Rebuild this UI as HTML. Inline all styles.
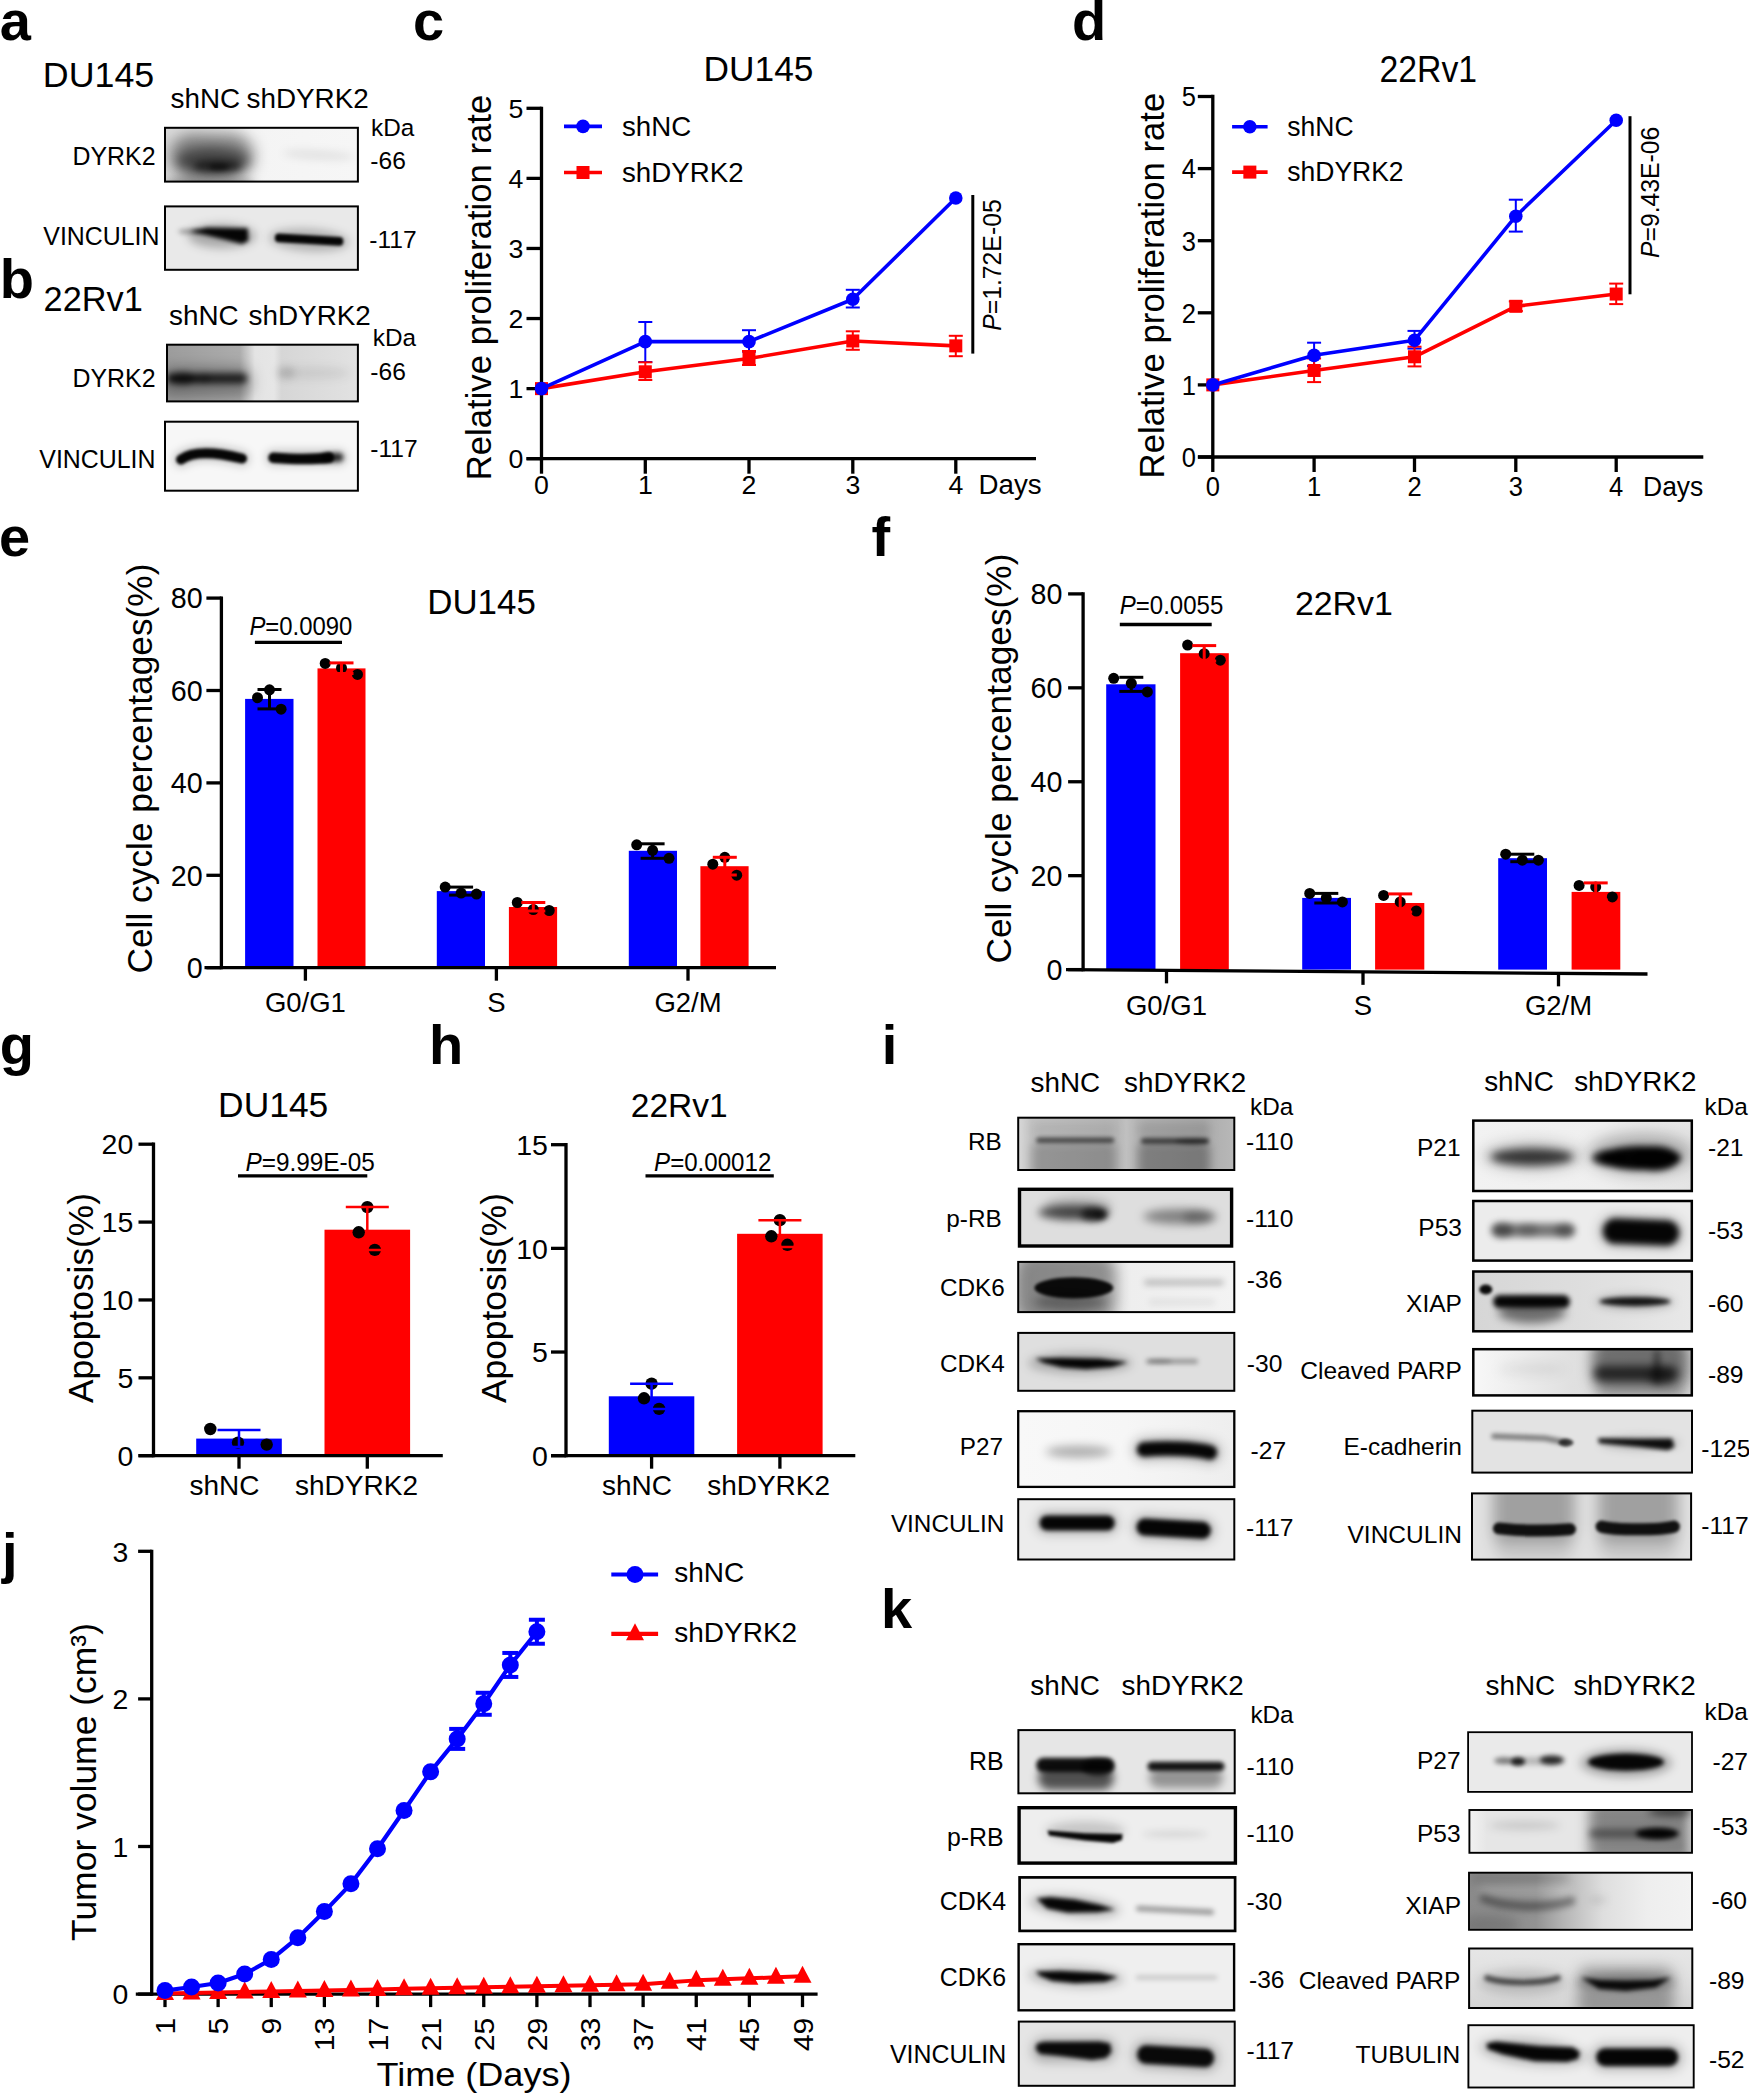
<!DOCTYPE html>
<html lang="en"><head><meta charset="utf-8"><title>Figure</title>
<style>
html,body{margin:0;padding:0;background:#fff;}
body{width:1749px;height:2096px;overflow:hidden;}
svg{display:block;font-family:"Liberation Sans",sans-serif;fill:#000;}
</style></head><body>
<svg width="1749" height="2096" viewBox="0 0 1749 2096">
<defs>
<linearGradient id="g1" gradientUnits="userSpaceOnUse" x1="165" y1="0" x2="358" y2="0"><stop offset="0" stop-color="#d8d8d8"/><stop offset="0.1" stop-color="#e0e0e0"/><stop offset="0.45" stop-color="#f4f4f4"/><stop offset="1" stop-color="#f6f6f6"/></linearGradient>
<clipPath id="c2"><rect x="165" y="127.8" width="192.9" height="53.8"/></clipPath>
<filter id="f3" filterUnits="userSpaceOnUse" x="120" y="82.8" width="282.9" height="143.8"><feGaussianBlur stdDeviation="7.5"/></filter>
<filter id="f4" filterUnits="userSpaceOnUse" x="120" y="82.8" width="282.9" height="143.8"><feGaussianBlur stdDeviation="5.5"/></filter>
<filter id="f5" filterUnits="userSpaceOnUse" x="120" y="82.8" width="282.9" height="143.8"><feGaussianBlur stdDeviation="3.5"/></filter>
<filter id="f6" filterUnits="userSpaceOnUse" x="120" y="82.8" width="282.9" height="143.8"><feGaussianBlur stdDeviation="2"/></filter>
<filter id="f7" filterUnits="userSpaceOnUse" x="120" y="82.8" width="282.9" height="143.8"><feGaussianBlur stdDeviation="5"/></filter>
<filter id="f8" filterUnits="userSpaceOnUse" x="120" y="82.8" width="282.9" height="143.8"><feGaussianBlur stdDeviation="4"/></filter>
<clipPath id="c9"><rect x="165" y="206.4" width="192.9" height="63.4"/></clipPath>
<filter id="f10" filterUnits="userSpaceOnUse" x="120" y="161.4" width="282.9" height="153.4"><feGaussianBlur stdDeviation="2.1"/></filter>
<filter id="f11" filterUnits="userSpaceOnUse" x="120" y="161.4" width="282.9" height="153.4"><feGaussianBlur stdDeviation="2.5"/></filter>
<filter id="f12" filterUnits="userSpaceOnUse" x="120" y="161.4" width="282.9" height="153.4"><feGaussianBlur stdDeviation="5"/></filter>
<filter id="f13" filterUnits="userSpaceOnUse" x="120" y="161.4" width="282.9" height="153.4"><feGaussianBlur stdDeviation="1.5"/></filter>
<filter id="f14" filterUnits="userSpaceOnUse" x="120" y="161.4" width="282.9" height="153.4"><feGaussianBlur stdDeviation="5"/></filter>
<linearGradient id="g15" gradientUnits="userSpaceOnUse" x1="167" y1="0" x2="358" y2="0"><stop offset="0" stop-color="#9c9c9c"/><stop offset="0.38" stop-color="#acacac"/><stop offset="0.46" stop-color="#e4e4e4"/><stop offset="0.56" stop-color="#e6e6e6"/><stop offset="0.6" stop-color="#d6d6d6"/><stop offset="1" stop-color="#e2e2e2"/></linearGradient>
<clipPath id="c16"><rect x="167" y="344.7" width="190.9" height="56.7"/></clipPath>
<filter id="f17" filterUnits="userSpaceOnUse" x="122" y="299.7" width="280.9" height="146.7"><feGaussianBlur stdDeviation="3"/></filter>
<filter id="f18" filterUnits="userSpaceOnUse" x="122" y="299.7" width="280.9" height="146.7"><feGaussianBlur stdDeviation="7"/></filter>
<filter id="f19" filterUnits="userSpaceOnUse" x="122" y="299.7" width="280.9" height="146.7"><feGaussianBlur stdDeviation="4"/></filter>
<filter id="f20" filterUnits="userSpaceOnUse" x="122" y="299.7" width="280.9" height="146.7"><feGaussianBlur stdDeviation="5"/></filter>
<clipPath id="c21"><rect x="165" y="421.7" width="192.9" height="69"/></clipPath>
<filter id="f22" filterUnits="userSpaceOnUse" x="120" y="376.7" width="282.9" height="159"><feGaussianBlur stdDeviation="1.6"/></filter>
<filter id="f23" filterUnits="userSpaceOnUse" x="120" y="376.7" width="282.9" height="159"><feGaussianBlur stdDeviation="4.5"/></filter>
<filter id="f24" filterUnits="userSpaceOnUse" x="120" y="376.7" width="282.9" height="159"><feGaussianBlur stdDeviation="1.6"/></filter>
<filter id="f25" filterUnits="userSpaceOnUse" x="120" y="376.7" width="282.9" height="159"><feGaussianBlur stdDeviation="2.5"/></filter>
<filter id="f26" filterUnits="userSpaceOnUse" x="120" y="376.7" width="282.9" height="159"><feGaussianBlur stdDeviation="4.5"/></filter>
<linearGradient id="g27" gradientUnits="userSpaceOnUse" x1="1018.2" y1="0" x2="1234.3" y2="0"><stop offset="0" stop-color="#d8d8d8"/><stop offset="0.06" stop-color="#c4c4c4"/><stop offset="0.46" stop-color="#b8b8b8"/><stop offset="0.5" stop-color="#c0c0c0"/><stop offset="0.55" stop-color="#b6b6b6"/><stop offset="0.86" stop-color="#acacac"/><stop offset="1" stop-color="#b8b8b8"/></linearGradient>
<clipPath id="c28"><rect x="1018.2" y="1117.7" width="216.1" height="52.3"/></clipPath>
<filter id="f29" filterUnits="userSpaceOnUse" x="973.2" y="1072.7" width="306.1" height="142.3"><feGaussianBlur stdDeviation="5"/></filter>
<filter id="f30" filterUnits="userSpaceOnUse" x="973.2" y="1072.7" width="306.1" height="142.3"><feGaussianBlur stdDeviation="2.2"/></filter>
<clipPath id="c31"><rect x="1019.5" y="1189.3" width="212.1" height="56.7"/></clipPath>
<filter id="f32" filterUnits="userSpaceOnUse" x="974.5" y="1144.3" width="302.1" height="146.7"><feGaussianBlur stdDeviation="4.5"/></filter>
<filter id="f33" filterUnits="userSpaceOnUse" x="974.5" y="1144.3" width="302.1" height="146.7"><feGaussianBlur stdDeviation="3.5"/></filter>
<filter id="f34" filterUnits="userSpaceOnUse" x="974.5" y="1144.3" width="302.1" height="146.7"><feGaussianBlur stdDeviation="2.5"/></filter>
<filter id="f35" filterUnits="userSpaceOnUse" x="974.5" y="1144.3" width="302.1" height="146.7"><feGaussianBlur stdDeviation="5"/></filter>
<filter id="f36" filterUnits="userSpaceOnUse" x="974.5" y="1144.3" width="302.1" height="146.7"><feGaussianBlur stdDeviation="4"/></filter>
<linearGradient id="g37" gradientUnits="userSpaceOnUse" x1="1018.2" y1="0" x2="1234.3" y2="0"><stop offset="0" stop-color="#d0d0d0"/><stop offset="0.4" stop-color="#e0e0e0"/><stop offset="0.52" stop-color="#eeeeee"/><stop offset="1" stop-color="#f3f3f3"/></linearGradient>
<clipPath id="c38"><rect x="1018.2" y="1261.9" width="216.1" height="50.2"/></clipPath>
<filter id="f39" filterUnits="userSpaceOnUse" x="973.2" y="1216.9" width="306.1" height="140.2"><feGaussianBlur stdDeviation="7"/></filter>
<filter id="f40" filterUnits="userSpaceOnUse" x="973.2" y="1216.9" width="306.1" height="140.2"><feGaussianBlur stdDeviation="5"/></filter>
<filter id="f41" filterUnits="userSpaceOnUse" x="973.2" y="1216.9" width="306.1" height="140.2"><feGaussianBlur stdDeviation="1.6"/></filter>
<filter id="f42" filterUnits="userSpaceOnUse" x="973.2" y="1216.9" width="306.1" height="140.2"><feGaussianBlur stdDeviation="3"/></filter>
<clipPath id="c43"><rect x="1018.2" y="1332.9" width="216.1" height="57.9"/></clipPath>
<filter id="f44" filterUnits="userSpaceOnUse" x="973.2" y="1287.9" width="306.1" height="147.9"><feGaussianBlur stdDeviation="1.9"/></filter>
<filter id="f45" filterUnits="userSpaceOnUse" x="973.2" y="1287.9" width="306.1" height="147.9"><feGaussianBlur stdDeviation="5"/></filter>
<filter id="f46" filterUnits="userSpaceOnUse" x="973.2" y="1287.9" width="306.1" height="147.9"><feGaussianBlur stdDeviation="2.6"/></filter>
<filter id="f47" filterUnits="userSpaceOnUse" x="973.2" y="1287.9" width="306.1" height="147.9"><feGaussianBlur stdDeviation="2"/></filter>
<linearGradient id="g48" gradientUnits="userSpaceOnUse" x1="1018.2" y1="0" x2="1234.3" y2="0"><stop offset="0" stop-color="#f8f8f8"/><stop offset="0.5" stop-color="#f6f6f6"/><stop offset="1" stop-color="#eeeeee"/></linearGradient>
<clipPath id="c49"><rect x="1018.2" y="1411.2" width="216.1" height="75.7"/></clipPath>
<filter id="f50" filterUnits="userSpaceOnUse" x="973.2" y="1366.2" width="306.1" height="165.7"><feGaussianBlur stdDeviation="5"/></filter>
<filter id="f51" filterUnits="userSpaceOnUse" x="973.2" y="1366.2" width="306.1" height="165.7"><feGaussianBlur stdDeviation="2.6"/></filter>
<filter id="f52" filterUnits="userSpaceOnUse" x="973.2" y="1366.2" width="306.1" height="165.7"><feGaussianBlur stdDeviation="6"/></filter>
<clipPath id="c53"><rect x="1018.2" y="1499.2" width="216.1" height="60.3"/></clipPath>
<filter id="f54" filterUnits="userSpaceOnUse" x="973.2" y="1454.2" width="306.1" height="150.3"><feGaussianBlur stdDeviation="2"/></filter>
<filter id="f55" filterUnits="userSpaceOnUse" x="973.2" y="1454.2" width="306.1" height="150.3"><feGaussianBlur stdDeviation="5.5"/></filter>
<filter id="f56" filterUnits="userSpaceOnUse" x="973.2" y="1454.2" width="306.1" height="150.3"><feGaussianBlur stdDeviation="2"/></filter>
<filter id="f57" filterUnits="userSpaceOnUse" x="973.2" y="1454.2" width="306.1" height="150.3"><feGaussianBlur stdDeviation="5.5"/></filter>
<linearGradient id="g58" gradientUnits="userSpaceOnUse" x1="1473.3" y1="0" x2="1691.8" y2="0"><stop offset="0" stop-color="#f2f2f2"/><stop offset="0.6" stop-color="#efefef"/><stop offset="1" stop-color="#e4e4e4"/></linearGradient>
<clipPath id="c59"><rect x="1473.3" y="1120.6" width="218.5" height="70.4"/></clipPath>
<filter id="f60" filterUnits="userSpaceOnUse" x="1428.3" y="1075.6" width="308.5" height="160.4"><feGaussianBlur stdDeviation="4.5"/></filter>
<filter id="f61" filterUnits="userSpaceOnUse" x="1428.3" y="1075.6" width="308.5" height="160.4"><feGaussianBlur stdDeviation="7"/></filter>
<filter id="f62" filterUnits="userSpaceOnUse" x="1428.3" y="1075.6" width="308.5" height="160.4"><feGaussianBlur stdDeviation="3.4"/></filter>
<filter id="f63" filterUnits="userSpaceOnUse" x="1428.3" y="1075.6" width="308.5" height="160.4"><feGaussianBlur stdDeviation="8"/></filter>
<clipPath id="c64"><rect x="1473.3" y="1201" width="218.5" height="59.6"/></clipPath>
<filter id="f65" filterUnits="userSpaceOnUse" x="1428.3" y="1156" width="308.5" height="149.6"><feGaussianBlur stdDeviation="3.8"/></filter>
<filter id="f66" filterUnits="userSpaceOnUse" x="1428.3" y="1156" width="308.5" height="149.6"><feGaussianBlur stdDeviation="3.5"/></filter>
<filter id="f67" filterUnits="userSpaceOnUse" x="1428.3" y="1156" width="308.5" height="149.6"><feGaussianBlur stdDeviation="3.2"/></filter>
<filter id="f68" filterUnits="userSpaceOnUse" x="1428.3" y="1156" width="308.5" height="149.6"><feGaussianBlur stdDeviation="6"/></filter>
<linearGradient id="g69" gradientUnits="userSpaceOnUse" x1="1473.3" y1="0" x2="1691.8" y2="0"><stop offset="0" stop-color="#d6d6d6"/><stop offset="0.5" stop-color="#dedede"/><stop offset="1" stop-color="#e8e8e8"/></linearGradient>
<clipPath id="c70"><rect x="1473.3" y="1271.5" width="218.5" height="59.8"/></clipPath>
<filter id="f71" filterUnits="userSpaceOnUse" x="1428.3" y="1226.5" width="308.5" height="149.8"><feGaussianBlur stdDeviation="5"/></filter>
<filter id="f72" filterUnits="userSpaceOnUse" x="1428.3" y="1226.5" width="308.5" height="149.8"><feGaussianBlur stdDeviation="2.4"/></filter>
<filter id="f73" filterUnits="userSpaceOnUse" x="1428.3" y="1226.5" width="308.5" height="149.8"><feGaussianBlur stdDeviation="1.7"/></filter>
<filter id="f74" filterUnits="userSpaceOnUse" x="1428.3" y="1226.5" width="308.5" height="149.8"><feGaussianBlur stdDeviation="2.1"/></filter>
<filter id="f75" filterUnits="userSpaceOnUse" x="1428.3" y="1226.5" width="308.5" height="149.8"><feGaussianBlur stdDeviation="4"/></filter>
<linearGradient id="g76" gradientUnits="userSpaceOnUse" x1="1473.3" y1="0" x2="1691.8" y2="0"><stop offset="0" stop-color="#f8f8f8"/><stop offset="0.45" stop-color="#e0e0e0"/><stop offset="1" stop-color="#d6d6d6"/></linearGradient>
<clipPath id="c77"><rect x="1473.3" y="1349.2" width="218.5" height="46.2"/></clipPath>
<filter id="f78" filterUnits="userSpaceOnUse" x="1428.3" y="1304.2" width="308.5" height="136.2"><feGaussianBlur stdDeviation="6"/></filter>
<filter id="f79" filterUnits="userSpaceOnUse" x="1428.3" y="1304.2" width="308.5" height="136.2"><feGaussianBlur stdDeviation="7"/></filter>
<filter id="f80" filterUnits="userSpaceOnUse" x="1428.3" y="1304.2" width="308.5" height="136.2"><feGaussianBlur stdDeviation="6"/></filter>
<filter id="f81" filterUnits="userSpaceOnUse" x="1428.3" y="1304.2" width="308.5" height="136.2"><feGaussianBlur stdDeviation="4"/></filter>
<filter id="f82" filterUnits="userSpaceOnUse" x="1428.3" y="1304.2" width="308.5" height="136.2"><feGaussianBlur stdDeviation="3"/></filter>
<filter id="f83" filterUnits="userSpaceOnUse" x="1428.3" y="1304.2" width="308.5" height="136.2"><feGaussianBlur stdDeviation="4"/></filter>
<clipPath id="c84"><rect x="1472.3" y="1410.7" width="219.7" height="61.9"/></clipPath>
<filter id="f85" filterUnits="userSpaceOnUse" x="1427.3" y="1365.7" width="309.7" height="151.9"><feGaussianBlur stdDeviation="2.3"/></filter>
<filter id="f86" filterUnits="userSpaceOnUse" x="1427.3" y="1365.7" width="309.7" height="151.9"><feGaussianBlur stdDeviation="1.8"/></filter>
<filter id="f87" filterUnits="userSpaceOnUse" x="1427.3" y="1365.7" width="309.7" height="151.9"><feGaussianBlur stdDeviation="2"/></filter>
<filter id="f88" filterUnits="userSpaceOnUse" x="1427.3" y="1365.7" width="309.7" height="151.9"><feGaussianBlur stdDeviation="4"/></filter>
<clipPath id="c89"><rect x="1472" y="1493.4" width="219.1" height="66.2"/></clipPath>
<filter id="f90" filterUnits="userSpaceOnUse" x="1427" y="1448.4" width="309.1" height="156.2"><feGaussianBlur stdDeviation="7.5"/></filter>
<filter id="f91" filterUnits="userSpaceOnUse" x="1427" y="1448.4" width="309.1" height="156.2"><feGaussianBlur stdDeviation="1.8"/></filter>
<clipPath id="c92"><rect x="1018.4" y="1730.1" width="216.3" height="63.2"/></clipPath>
<filter id="f93" filterUnits="userSpaceOnUse" x="973.4" y="1685.1" width="306.3" height="153.2"><feGaussianBlur stdDeviation="4.5"/></filter>
<filter id="f94" filterUnits="userSpaceOnUse" x="973.4" y="1685.1" width="306.3" height="153.2"><feGaussianBlur stdDeviation="2.2"/></filter>
<filter id="f95" filterUnits="userSpaceOnUse" x="973.4" y="1685.1" width="306.3" height="153.2"><feGaussianBlur stdDeviation="2.5"/></filter>
<filter id="f96" filterUnits="userSpaceOnUse" x="973.4" y="1685.1" width="306.3" height="153.2"><feGaussianBlur stdDeviation="2.2"/></filter>
<clipPath id="c97"><rect x="1019.1" y="1807.7" width="216.3" height="55.4"/></clipPath>
<filter id="f98" filterUnits="userSpaceOnUse" x="974.1" y="1762.7" width="306.3" height="145.4"><feGaussianBlur stdDeviation="1.7"/></filter>
<filter id="f99" filterUnits="userSpaceOnUse" x="974.1" y="1762.7" width="306.3" height="145.4"><feGaussianBlur stdDeviation="5"/></filter>
<filter id="f100" filterUnits="userSpaceOnUse" x="974.1" y="1762.7" width="306.3" height="145.4"><feGaussianBlur stdDeviation="3.5"/></filter>
<clipPath id="c101"><rect x="1019.6" y="1877.4" width="215.5" height="53.5"/></clipPath>
<filter id="f102" filterUnits="userSpaceOnUse" x="974.6" y="1832.4" width="305.5" height="143.5"><feGaussianBlur stdDeviation="1.9"/></filter>
<filter id="f103" filterUnits="userSpaceOnUse" x="974.6" y="1832.4" width="305.5" height="143.5"><feGaussianBlur stdDeviation="5"/></filter>
<filter id="f104" filterUnits="userSpaceOnUse" x="974.6" y="1832.4" width="305.5" height="143.5"><feGaussianBlur stdDeviation="2.6"/></filter>
<clipPath id="c105"><rect x="1018.6" y="1944.2" width="215.5" height="66.1"/></clipPath>
<filter id="f106" filterUnits="userSpaceOnUse" x="973.6" y="1899.2" width="305.5" height="156.1"><feGaussianBlur stdDeviation="2"/></filter>
<filter id="f107" filterUnits="userSpaceOnUse" x="973.6" y="1899.2" width="305.5" height="156.1"><feGaussianBlur stdDeviation="5"/></filter>
<filter id="f108" filterUnits="userSpaceOnUse" x="973.6" y="1899.2" width="305.5" height="156.1"><feGaussianBlur stdDeviation="2.6"/></filter>
<clipPath id="c109"><rect x="1018.8" y="2021.6" width="215.9" height="64.2"/></clipPath>
<filter id="f110" filterUnits="userSpaceOnUse" x="973.8" y="1976.6" width="305.9" height="154.2"><feGaussianBlur stdDeviation="2"/></filter>
<filter id="f111" filterUnits="userSpaceOnUse" x="973.8" y="1976.6" width="305.9" height="154.2"><feGaussianBlur stdDeviation="5.5"/></filter>
<filter id="f112" filterUnits="userSpaceOnUse" x="973.8" y="1976.6" width="305.9" height="154.2"><feGaussianBlur stdDeviation="2"/></filter>
<filter id="f113" filterUnits="userSpaceOnUse" x="973.8" y="1976.6" width="305.9" height="154.2"><feGaussianBlur stdDeviation="5.5"/></filter>
<clipPath id="c114"><rect x="1468.1" y="1732.2" width="223.9" height="59.7"/></clipPath>
<filter id="f115" filterUnits="userSpaceOnUse" x="1423.1" y="1687.2" width="313.9" height="149.7"><feGaussianBlur stdDeviation="2.2"/></filter>
<filter id="f116" filterUnits="userSpaceOnUse" x="1423.1" y="1687.2" width="313.9" height="149.7"><feGaussianBlur stdDeviation="2.4"/></filter>
<filter id="f117" filterUnits="userSpaceOnUse" x="1423.1" y="1687.2" width="313.9" height="149.7"><feGaussianBlur stdDeviation="3"/></filter>
<filter id="f118" filterUnits="userSpaceOnUse" x="1423.1" y="1687.2" width="313.9" height="149.7"><feGaussianBlur stdDeviation="2.2"/></filter>
<filter id="f119" filterUnits="userSpaceOnUse" x="1423.1" y="1687.2" width="313.9" height="149.7"><feGaussianBlur stdDeviation="5"/></filter>
<linearGradient id="g120" gradientUnits="userSpaceOnUse" x1="1469" y1="0" x2="1692" y2="0"><stop offset="0" stop-color="#f2f2f2"/><stop offset="0.08" stop-color="#e6e6e6"/><stop offset="0.5" stop-color="#e6e6e6"/><stop offset="1" stop-color="#e0e0e0"/></linearGradient>
<clipPath id="c121"><rect x="1469.4" y="1810" width="222.6" height="42.8"/></clipPath>
<filter id="f122" filterUnits="userSpaceOnUse" x="1424.4" y="1765" width="312.6" height="132.8"><feGaussianBlur stdDeviation="4"/></filter>
<filter id="f123" filterUnits="userSpaceOnUse" x="1424.4" y="1765" width="312.6" height="132.8"><feGaussianBlur stdDeviation="6.5"/></filter>
<filter id="f124" filterUnits="userSpaceOnUse" x="1424.4" y="1765" width="312.6" height="132.8"><feGaussianBlur stdDeviation="3"/></filter>
<filter id="f125" filterUnits="userSpaceOnUse" x="1424.4" y="1765" width="312.6" height="132.8"><feGaussianBlur stdDeviation="3.5"/></filter>
<filter id="f126" filterUnits="userSpaceOnUse" x="1424.4" y="1765" width="312.6" height="132.8"><feGaussianBlur stdDeviation="2.6"/></filter>
<filter id="f127" filterUnits="userSpaceOnUse" x="1424.4" y="1765" width="312.6" height="132.8"><feGaussianBlur stdDeviation="4"/></filter>
<linearGradient id="g128" gradientUnits="userSpaceOnUse" x1="1469" y1="0" x2="1692" y2="0"><stop offset="0" stop-color="#8a8a8a"/><stop offset="0.3" stop-color="#929292"/><stop offset="0.42" stop-color="#b4b4b4"/><stop offset="0.6" stop-color="#dedede"/><stop offset="0.8" stop-color="#eeeeee"/><stop offset="1" stop-color="#f2f2f2"/></linearGradient>
<clipPath id="c129"><rect x="1469" y="1872.7" width="223" height="57.1"/></clipPath>
<filter id="f130" filterUnits="userSpaceOnUse" x="1424" y="1827.7" width="313" height="147.1"><feGaussianBlur stdDeviation="3.2"/></filter>
<filter id="f131" filterUnits="userSpaceOnUse" x="1424" y="1827.7" width="313" height="147.1"><feGaussianBlur stdDeviation="5"/></filter>
<filter id="f132" filterUnits="userSpaceOnUse" x="1424" y="1827.7" width="313" height="147.1"><feGaussianBlur stdDeviation="4"/></filter>
<filter id="f133" filterUnits="userSpaceOnUse" x="1424" y="1827.7" width="313" height="147.1"><feGaussianBlur stdDeviation="6"/></filter>
<linearGradient id="g134" gradientUnits="userSpaceOnUse" x1="0" y1="1948" x2="0" y2="2008"><stop offset="0" stop-color="#e6e6e6"/><stop offset="0.5" stop-color="#e0e0e0"/><stop offset="1" stop-color="#d4d4d4"/></linearGradient>
<clipPath id="c135"><rect x="1469.1" y="1948.5" width="223.2" height="59.5"/></clipPath>
<filter id="f136" filterUnits="userSpaceOnUse" x="1424.1" y="1903.5" width="313.2" height="149.5"><feGaussianBlur stdDeviation="7"/></filter>
<filter id="f137" filterUnits="userSpaceOnUse" x="1424.1" y="1903.5" width="313.2" height="149.5"><feGaussianBlur stdDeviation="6"/></filter>
<filter id="f138" filterUnits="userSpaceOnUse" x="1424.1" y="1903.5" width="313.2" height="149.5"><feGaussianBlur stdDeviation="2.2"/></filter>
<filter id="f139" filterUnits="userSpaceOnUse" x="1424.1" y="1903.5" width="313.2" height="149.5"><feGaussianBlur stdDeviation="2"/></filter>
<filter id="f140" filterUnits="userSpaceOnUse" x="1424.1" y="1903.5" width="313.2" height="149.5"><feGaussianBlur stdDeviation="4.5"/></filter>
<clipPath id="c141"><rect x="1468.4" y="2025.2" width="225.3" height="62.3"/></clipPath>
<filter id="f142" filterUnits="userSpaceOnUse" x="1423.4" y="1980.2" width="315.3" height="152.3"><feGaussianBlur stdDeviation="2.2"/></filter>
<filter id="f143" filterUnits="userSpaceOnUse" x="1423.4" y="1980.2" width="315.3" height="152.3"><feGaussianBlur stdDeviation="5.5"/></filter>
<filter id="f144" filterUnits="userSpaceOnUse" x="1423.4" y="1980.2" width="315.3" height="152.3"><feGaussianBlur stdDeviation="2.2"/></filter>
<filter id="f145" filterUnits="userSpaceOnUse" x="1423.4" y="1980.2" width="315.3" height="152.3"><feGaussianBlur stdDeviation="5.5"/></filter>
</defs>
<rect width="1749" height="2096" fill="#fff"/>
<text x="-0.3" y="40.2" font-size="56" font-weight="bold">a</text>
<text x="-0.3" y="297.9" font-size="56" font-weight="bold">b</text>
<text x="413.1" y="40.2" font-size="56" font-weight="bold">c</text>
<text x="1072.1" y="40.1" font-size="56" font-weight="bold">d</text>
<text x="-1" y="556" font-size="56" font-weight="bold">e</text>
<text x="871.5" y="555.7" font-size="56" font-weight="bold">f</text>
<text x="-0.3" y="1063.6" font-size="56" font-weight="bold">g</text>
<text x="429.1" y="1064" font-size="56" font-weight="bold">h</text>
<text x="881.8" y="1063.9" font-size="56" font-weight="bold">i</text>
<text x="2.1" y="1572.1" font-size="56" font-weight="bold">j</text>
<text x="881.1" y="1628.1" font-size="56" font-weight="bold">k</text>
<line x1="645.3" y1="322" x2="645.3" y2="362" stroke="#0000ff" stroke-width="2"/>
<line x1="638.3" y1="322" x2="652.3" y2="322" stroke="#0000ff" stroke-width="2"/>
<line x1="638.3" y1="362" x2="652.3" y2="362" stroke="#0000ff" stroke-width="2"/>
<line x1="749" y1="330.2" x2="749" y2="351.7" stroke="#0000ff" stroke-width="2"/>
<line x1="742" y1="330.2" x2="756" y2="330.2" stroke="#0000ff" stroke-width="2"/>
<line x1="742" y1="351.7" x2="756" y2="351.7" stroke="#0000ff" stroke-width="2"/>
<line x1="852.8" y1="289.8" x2="852.8" y2="307.5" stroke="#0000ff" stroke-width="2"/>
<line x1="845.8" y1="289.8" x2="859.8" y2="289.8" stroke="#0000ff" stroke-width="2"/>
<line x1="845.8" y1="307.5" x2="859.8" y2="307.5" stroke="#0000ff" stroke-width="2"/>
<line x1="645.3" y1="362.3" x2="645.3" y2="380" stroke="#ff0000" stroke-width="2"/>
<line x1="638.3" y1="362.3" x2="652.3" y2="362.3" stroke="#ff0000" stroke-width="2"/>
<line x1="638.3" y1="380" x2="652.3" y2="380" stroke="#ff0000" stroke-width="2"/>
<line x1="749" y1="351" x2="749" y2="365" stroke="#ff0000" stroke-width="2"/>
<line x1="742" y1="351" x2="756" y2="351" stroke="#ff0000" stroke-width="2"/>
<line x1="742" y1="365" x2="756" y2="365" stroke="#ff0000" stroke-width="2"/>
<line x1="852.8" y1="331.3" x2="852.8" y2="349.8" stroke="#ff0000" stroke-width="2"/>
<line x1="845.8" y1="331.3" x2="859.8" y2="331.3" stroke="#ff0000" stroke-width="2"/>
<line x1="845.8" y1="349.8" x2="859.8" y2="349.8" stroke="#ff0000" stroke-width="2"/>
<line x1="955.8" y1="335.8" x2="955.8" y2="356.2" stroke="#ff0000" stroke-width="2"/>
<line x1="948.8" y1="335.8" x2="962.8" y2="335.8" stroke="#ff0000" stroke-width="2"/>
<line x1="948.8" y1="356.2" x2="962.8" y2="356.2" stroke="#ff0000" stroke-width="2"/>
<line x1="541.5" y1="106.65" x2="541.5" y2="460.35" stroke="#000" stroke-width="3.3"/>
<line x1="526.5" y1="458.7" x2="1036" y2="458.7" stroke="#000" stroke-width="3.3"/>
<line x1="526.5" y1="458.7" x2="541.5" y2="458.7" stroke="#000" stroke-width="3.3"/>
<text x="523.4" y="468.3" font-size="26.7" text-anchor="end">0</text>
<line x1="526.5" y1="388.62" x2="541.5" y2="388.62" stroke="#000" stroke-width="3.3"/>
<text x="523.4" y="398.22" font-size="26.7" text-anchor="end">1</text>
<line x1="526.5" y1="318.54" x2="541.5" y2="318.54" stroke="#000" stroke-width="3.3"/>
<text x="523.4" y="328.14" font-size="26.7" text-anchor="end">2</text>
<line x1="526.5" y1="248.46" x2="541.5" y2="248.46" stroke="#000" stroke-width="3.3"/>
<text x="523.4" y="258.06" font-size="26.7" text-anchor="end">3</text>
<line x1="526.5" y1="178.38" x2="541.5" y2="178.38" stroke="#000" stroke-width="3.3"/>
<text x="523.4" y="187.98" font-size="26.7" text-anchor="end">4</text>
<line x1="526.5" y1="108.3" x2="541.5" y2="108.3" stroke="#000" stroke-width="3.3"/>
<text x="523.4" y="117.9" font-size="26.7" text-anchor="end">5</text>
<line x1="541.5" y1="458.7" x2="541.5" y2="473.7" stroke="#000" stroke-width="3.3"/>
<text x="541.5" y="494.3" font-size="26.7" text-anchor="middle">0</text>
<line x1="645.3" y1="458.7" x2="645.3" y2="473.7" stroke="#000" stroke-width="3.3"/>
<text x="645.3" y="494.3" font-size="26.7" text-anchor="middle">1</text>
<line x1="749" y1="458.7" x2="749" y2="473.7" stroke="#000" stroke-width="3.3"/>
<text x="749" y="494.3" font-size="26.7" text-anchor="middle">2</text>
<line x1="852.8" y1="458.7" x2="852.8" y2="473.7" stroke="#000" stroke-width="3.3"/>
<text x="852.8" y="494.3" font-size="26.7" text-anchor="middle">3</text>
<line x1="955.8" y1="458.7" x2="955.8" y2="473.7" stroke="#000" stroke-width="3.3"/>
<text x="955.8" y="494.3" font-size="26.7" text-anchor="middle">4</text>
<text x="978.5" y="494.3" font-size="27.7">Days</text>
<text x="758.5" y="81" font-size="35.3" text-anchor="middle">DU145</text>
<text x="491" y="287.5" font-size="34.7" text-anchor="middle" transform="rotate(-90 491 287.5)">Relative proliferation rate</text>
<polyline fill="none" stroke="#ff0000" stroke-width="3.6" stroke-linejoin="round" points="541.5,388.62 645.3,371.8 749,358.49 852.8,340.97 955.8,345.87"/>
<rect x="535" y="382.12" width="13" height="13" fill="#ff0000"/>
<rect x="638.8" y="365.3" width="13" height="13" fill="#ff0000"/>
<rect x="742.5" y="351.99" width="13" height="13" fill="#ff0000"/>
<rect x="846.3" y="334.47" width="13" height="13" fill="#ff0000"/>
<rect x="949.3" y="339.37" width="13" height="13" fill="#ff0000"/>
<polyline fill="none" stroke="#0000ff" stroke-width="3.6" stroke-linejoin="round" points="541.5,388.62 645.3,341.67 749,341.67 852.8,299.27 955.8,198"/>
<circle cx="541.5" cy="388.62" r="6.8" fill="#0000ff"/>
<circle cx="645.3" cy="341.67" r="6.8" fill="#0000ff"/>
<circle cx="749" cy="341.67" r="6.8" fill="#0000ff"/>
<circle cx="852.8" cy="299.27" r="6.8" fill="#0000ff"/>
<circle cx="955.8" cy="198" r="6.8" fill="#0000ff"/>
<line x1="564" y1="126.4" x2="602" y2="126.4" stroke="#0000ff" stroke-width="3.6"/>
<circle cx="583" cy="126.4" r="6.8" fill="#0000ff"/>
<text x="622" y="135.8" font-size="27.7">shNC</text>
<line x1="564" y1="172.5" x2="602" y2="172.5" stroke="#ff0000" stroke-width="3.6"/>
<rect x="576.5" y="166" width="13" height="13" fill="#ff0000"/>
<text x="622" y="181.9" font-size="27.7">shDYRK2</text>
<line x1="972.8" y1="195" x2="972.8" y2="353.6" stroke="#000" stroke-width="3"/>
<text x="1000.8" y="330.8" font-size="25.7" transform="rotate(-90 1000.8 330.8)" textLength="131.5" lengthAdjust="spacingAndGlyphs"><tspan font-style="italic">P</tspan>=1.72E-05</text>
<line x1="1314.1" y1="342.7" x2="1314.1" y2="366" stroke="#0000ff" stroke-width="2"/>
<line x1="1307.1" y1="342.7" x2="1321.1" y2="342.7" stroke="#0000ff" stroke-width="2"/>
<line x1="1307.1" y1="366" x2="1321.1" y2="366" stroke="#0000ff" stroke-width="2"/>
<line x1="1414.5" y1="330.9" x2="1414.5" y2="348.6" stroke="#0000ff" stroke-width="2"/>
<line x1="1407.5" y1="330.9" x2="1421.5" y2="330.9" stroke="#0000ff" stroke-width="2"/>
<line x1="1407.5" y1="348.6" x2="1421.5" y2="348.6" stroke="#0000ff" stroke-width="2"/>
<line x1="1515.8" y1="199.7" x2="1515.8" y2="231.6" stroke="#0000ff" stroke-width="2"/>
<line x1="1508.8" y1="199.7" x2="1522.8" y2="199.7" stroke="#0000ff" stroke-width="2"/>
<line x1="1508.8" y1="231.6" x2="1522.8" y2="231.6" stroke="#0000ff" stroke-width="2"/>
<line x1="1314.1" y1="358.5" x2="1314.1" y2="382.1" stroke="#ff0000" stroke-width="2"/>
<line x1="1307.1" y1="358.5" x2="1321.1" y2="358.5" stroke="#ff0000" stroke-width="2"/>
<line x1="1307.1" y1="382.1" x2="1321.1" y2="382.1" stroke="#ff0000" stroke-width="2"/>
<line x1="1414.5" y1="346.7" x2="1414.5" y2="366.4" stroke="#ff0000" stroke-width="2"/>
<line x1="1407.5" y1="346.7" x2="1421.5" y2="346.7" stroke="#ff0000" stroke-width="2"/>
<line x1="1407.5" y1="366.4" x2="1421.5" y2="366.4" stroke="#ff0000" stroke-width="2"/>
<line x1="1515.8" y1="301.4" x2="1515.8" y2="311" stroke="#ff0000" stroke-width="2"/>
<line x1="1508.8" y1="301.4" x2="1522.8" y2="301.4" stroke="#ff0000" stroke-width="2"/>
<line x1="1508.8" y1="311" x2="1522.8" y2="311" stroke="#ff0000" stroke-width="2"/>
<line x1="1616.2" y1="283.6" x2="1616.2" y2="304.1" stroke="#ff0000" stroke-width="2"/>
<line x1="1609.2" y1="283.6" x2="1623.2" y2="283.6" stroke="#ff0000" stroke-width="2"/>
<line x1="1609.2" y1="304.1" x2="1623.2" y2="304.1" stroke="#ff0000" stroke-width="2"/>
<line x1="1212.8" y1="94.85" x2="1212.8" y2="458.65" stroke="#000" stroke-width="3.3"/>
<line x1="1198" y1="457" x2="1703.3" y2="457" stroke="#000" stroke-width="3.3"/>
<line x1="1197.8" y1="457" x2="1212.8" y2="457" stroke="#000" stroke-width="3.3"/>
<text font-size="27.46" transform="translate(1196 466.87) scale(0.93 1)" text-anchor="end">0</text>
<line x1="1197.8" y1="384.9" x2="1212.8" y2="384.9" stroke="#000" stroke-width="3.3"/>
<text font-size="27.46" transform="translate(1196 394.77) scale(0.93 1)" text-anchor="end">1</text>
<line x1="1197.8" y1="312.8" x2="1212.8" y2="312.8" stroke="#000" stroke-width="3.3"/>
<text font-size="27.46" transform="translate(1196 322.67) scale(0.93 1)" text-anchor="end">2</text>
<line x1="1197.8" y1="240.7" x2="1212.8" y2="240.7" stroke="#000" stroke-width="3.3"/>
<text font-size="27.46" transform="translate(1196 250.57) scale(0.93 1)" text-anchor="end">3</text>
<line x1="1197.8" y1="168.6" x2="1212.8" y2="168.6" stroke="#000" stroke-width="3.3"/>
<text font-size="27.46" transform="translate(1196 178.47) scale(0.93 1)" text-anchor="end">4</text>
<line x1="1197.8" y1="96.5" x2="1212.8" y2="96.5" stroke="#000" stroke-width="3.3"/>
<text font-size="27.46" transform="translate(1196 106.37) scale(0.93 1)" text-anchor="end">5</text>
<line x1="1212.8" y1="457" x2="1212.8" y2="472" stroke="#000" stroke-width="3.3"/>
<text font-size="27.46" transform="translate(1212.8 496.2) scale(0.93 1)" text-anchor="middle">0</text>
<line x1="1314.1" y1="457" x2="1314.1" y2="472" stroke="#000" stroke-width="3.3"/>
<text font-size="27.46" transform="translate(1314.1 496.2) scale(0.93 1)" text-anchor="middle">1</text>
<line x1="1414.5" y1="457" x2="1414.5" y2="472" stroke="#000" stroke-width="3.3"/>
<text font-size="27.46" transform="translate(1414.5 496.2) scale(0.93 1)" text-anchor="middle">2</text>
<line x1="1515.8" y1="457" x2="1515.8" y2="472" stroke="#000" stroke-width="3.3"/>
<text font-size="27.46" transform="translate(1515.8 496.2) scale(0.93 1)" text-anchor="middle">3</text>
<line x1="1616.2" y1="457" x2="1616.2" y2="472" stroke="#000" stroke-width="3.3"/>
<text font-size="27.46" transform="translate(1616.2 496.2) scale(0.93 1)" text-anchor="middle">4</text>
<text font-size="28.49" transform="translate(1643 496.2) scale(0.93 1)">Days</text>
<text font-size="36.31" transform="translate(1428.3 81.5) scale(0.93 1)" text-anchor="middle">22Rv1</text>
<text x="1163.6" y="285.6" font-size="34.7" text-anchor="middle" transform="rotate(-90 1163.6 285.6)">Relative proliferation rate</text>
<polyline fill="none" stroke="#ff0000" stroke-width="3.6" stroke-linejoin="round" points="1212.8,384.9 1314.1,370.48 1414.5,356.78 1515.8,306.31 1616.2,294.05"/>
<rect x="1206.3" y="378.4" width="13" height="13" fill="#ff0000"/>
<rect x="1307.6" y="363.98" width="13" height="13" fill="#ff0000"/>
<rect x="1408" y="350.28" width="13" height="13" fill="#ff0000"/>
<rect x="1509.3" y="299.81" width="13" height="13" fill="#ff0000"/>
<rect x="1609.7" y="287.55" width="13" height="13" fill="#ff0000"/>
<polyline fill="none" stroke="#0000ff" stroke-width="3.6" stroke-linejoin="round" points="1212.8,384.9 1314.1,355.34 1414.5,340.2 1515.8,216.19 1616.2,120.29"/>
<circle cx="1212.8" cy="384.9" r="6.8" fill="#0000ff"/>
<circle cx="1314.1" cy="355.34" r="6.8" fill="#0000ff"/>
<circle cx="1414.5" cy="340.2" r="6.8" fill="#0000ff"/>
<circle cx="1515.8" cy="216.19" r="6.8" fill="#0000ff"/>
<circle cx="1616.2" cy="120.29" r="6.8" fill="#0000ff"/>
<line x1="1232.1" y1="126.8" x2="1267.6" y2="126.8" stroke="#0000ff" stroke-width="3.6"/>
<circle cx="1249.85" cy="126.8" r="6.8" fill="#0000ff"/>
<text font-size="28.49" transform="translate(1287.3 135.9) scale(0.93 1)">shNC</text>
<line x1="1232.1" y1="172.1" x2="1267.6" y2="172.1" stroke="#ff0000" stroke-width="3.6"/>
<rect x="1243.35" y="165.6" width="13" height="13" fill="#ff0000"/>
<text font-size="28.49" transform="translate(1287.3 181.2) scale(0.93 1)">shDYRK2</text>
<line x1="1630" y1="116.2" x2="1630" y2="294.3" stroke="#000" stroke-width="3"/>
<text x="1658.8" y="258" font-size="25.7" transform="rotate(-90 1658.8 258)" textLength="131.2" lengthAdjust="spacingAndGlyphs"><tspan font-style="italic">P</tspan>=9.43E-06</text>
<rect x="245.1" y="698.9" width="48.4" height="268.8" fill="#0000ff"/>
<rect x="317.5" y="668.4" width="48" height="299.3" fill="#ff0000"/>
<rect x="436.8" y="891.1" width="48.2" height="76.6" fill="#0000ff"/>
<rect x="508.9" y="907" width="48.2" height="60.7" fill="#ff0000"/>
<rect x="628.8" y="850.8" width="48.2" height="116.9" fill="#0000ff"/>
<rect x="700.4" y="866.2" width="48.2" height="101.5" fill="#ff0000"/>
<line x1="269.5" y1="689.5" x2="269.5" y2="708.9" stroke="#000" stroke-width="3"/>
<line x1="257.5" y1="689.5" x2="281.5" y2="689.5" stroke="#000" stroke-width="3"/>
<line x1="257.5" y1="708.9" x2="281.5" y2="708.9" stroke="#000" stroke-width="3"/>
<circle cx="257.5" cy="697.7" r="5.5" fill="#000"/>
<circle cx="269.5" cy="689.8" r="5.5" fill="#000"/>
<circle cx="281.1" cy="709.2" r="5.5" fill="#000"/>
<circle cx="325.2" cy="663.4" r="5.5" fill="#000"/>
<circle cx="341.5" cy="668" r="5.5" fill="#000"/>
<circle cx="357.5" cy="674.4" r="5.5" fill="#000"/>
<line x1="341.5" y1="662.9" x2="341.5" y2="673.5" stroke="#ff0000" stroke-width="3"/>
<line x1="329.5" y1="662.9" x2="353.5" y2="662.9" stroke="#ff0000" stroke-width="3"/>
<line x1="329.5" y1="673.5" x2="353.5" y2="673.5" stroke="#ff0000" stroke-width="3"/>
<line x1="461.1" y1="887.1" x2="461.1" y2="895.1" stroke="#000" stroke-width="3"/>
<line x1="449.1" y1="887.1" x2="473.1" y2="887.1" stroke="#000" stroke-width="3"/>
<line x1="449.1" y1="895.1" x2="473.1" y2="895.1" stroke="#000" stroke-width="3"/>
<circle cx="445.2" cy="887.1" r="5.5" fill="#000"/>
<circle cx="461.1" cy="893.1" r="5.5" fill="#000"/>
<circle cx="476.5" cy="894.1" r="5.5" fill="#000"/>
<circle cx="517.3" cy="902.5" r="5.5" fill="#000"/>
<circle cx="533.3" cy="909.5" r="5.5" fill="#000"/>
<circle cx="549.2" cy="910.5" r="5.5" fill="#000"/>
<line x1="533.3" y1="902.5" x2="533.3" y2="911" stroke="#ff0000" stroke-width="3"/>
<line x1="521.3" y1="902.5" x2="545.3" y2="902.5" stroke="#ff0000" stroke-width="3"/>
<line x1="521.3" y1="911" x2="545.3" y2="911" stroke="#ff0000" stroke-width="3"/>
<line x1="652.6" y1="843.8" x2="652.6" y2="858.3" stroke="#000" stroke-width="3"/>
<line x1="640.6" y1="843.8" x2="664.6" y2="843.8" stroke="#000" stroke-width="3"/>
<line x1="640.6" y1="858.3" x2="664.6" y2="858.3" stroke="#000" stroke-width="3"/>
<circle cx="636.7" cy="844.8" r="5.5" fill="#000"/>
<circle cx="652.6" cy="850.3" r="5.5" fill="#000"/>
<circle cx="669" cy="858.3" r="5.5" fill="#000"/>
<circle cx="712.8" cy="864.2" r="5.5" fill="#000"/>
<circle cx="724.8" cy="857.3" r="5.5" fill="#000"/>
<circle cx="736.7" cy="875.2" r="5.5" fill="#000"/>
<line x1="724.8" y1="857.3" x2="724.8" y2="875" stroke="#ff0000" stroke-width="3"/>
<line x1="712.8" y1="857.3" x2="736.8" y2="857.3" stroke="#ff0000" stroke-width="3"/>
<line x1="712.8" y1="875" x2="736.8" y2="875" stroke="#ff0000" stroke-width="3"/>
<line x1="221.4" y1="596.45" x2="221.4" y2="969.35" stroke="#000" stroke-width="3.3"/>
<line x1="204.5" y1="967.7" x2="776" y2="967.7" stroke="#000" stroke-width="3.3"/>
<line x1="206.4" y1="967.7" x2="221.4" y2="967.7" stroke="#000" stroke-width="3.3"/>
<text x="202.6" y="978" font-size="28.7" text-anchor="end">0</text>
<line x1="206.4" y1="875.3" x2="221.4" y2="875.3" stroke="#000" stroke-width="3.3"/>
<text x="202.6" y="885.6" font-size="28.7" text-anchor="end">20</text>
<line x1="206.4" y1="782.9" x2="221.4" y2="782.9" stroke="#000" stroke-width="3.3"/>
<text x="202.6" y="793.2" font-size="28.7" text-anchor="end">40</text>
<line x1="206.4" y1="690.5" x2="221.4" y2="690.5" stroke="#000" stroke-width="3.3"/>
<text x="202.6" y="700.8" font-size="28.7" text-anchor="end">60</text>
<line x1="206.4" y1="598.1" x2="221.4" y2="598.1" stroke="#000" stroke-width="3.3"/>
<text x="202.6" y="608.4" font-size="28.7" text-anchor="end">80</text>
<line x1="305.4" y1="967.7" x2="305.4" y2="980.7" stroke="#000" stroke-width="3.3"/>
<text x="305.4" y="1011.5" font-size="27.5" text-anchor="middle">G0/G1</text>
<line x1="496.4" y1="967.7" x2="496.4" y2="980.7" stroke="#000" stroke-width="3.3"/>
<text x="496.4" y="1011.5" font-size="27.5" text-anchor="middle">S</text>
<line x1="688" y1="967.7" x2="688" y2="980.7" stroke="#000" stroke-width="3.3"/>
<text x="688" y="1011.5" font-size="27.5" text-anchor="middle">G2/M</text>
<text x="481.5" y="613.5" font-size="34.9" text-anchor="middle">DU145</text>
<text x="151.7" y="768.5" font-size="35.3" text-anchor="middle" transform="rotate(-90 151.7 768.5)">Cell cycle percentages(%)</text>
<text x="249.4" y="634.6" font-size="25.7" textLength="103" lengthAdjust="spacingAndGlyphs"><tspan font-style="italic">P</tspan>=0.0090</text>
<line x1="254.9" y1="642.3" x2="342" y2="642.3" stroke="#000" stroke-width="3.3"/>
<rect x="1106.2" y="684.3" width="49.3" height="285.3" fill="#0000ff"/>
<rect x="1180.1" y="653.2" width="48.7" height="316.4" fill="#ff0000"/>
<rect x="1302.2" y="897.9" width="48.8" height="71.7" fill="#0000ff"/>
<rect x="1375.1" y="903" width="49.2" height="66.6" fill="#ff0000"/>
<rect x="1498.2" y="858.2" width="48.8" height="111.4" fill="#0000ff"/>
<rect x="1571.6" y="891.9" width="48.7" height="77.7" fill="#ff0000"/>
<line x1="1131.3" y1="677.3" x2="1131.3" y2="691.4" stroke="#000" stroke-width="3"/>
<line x1="1119.3" y1="677.3" x2="1143.3" y2="677.3" stroke="#000" stroke-width="3"/>
<line x1="1119.3" y1="691.4" x2="1143.3" y2="691.4" stroke="#000" stroke-width="3"/>
<circle cx="1113.7" cy="678.3" r="5.5" fill="#000"/>
<circle cx="1131.3" cy="683.3" r="5.5" fill="#000"/>
<circle cx="1147.4" cy="691.9" r="5.5" fill="#000"/>
<circle cx="1187.6" cy="645.1" r="5.5" fill="#000"/>
<circle cx="1204.2" cy="653.7" r="5.5" fill="#000"/>
<circle cx="1220.3" cy="660.2" r="5.5" fill="#000"/>
<line x1="1204.2" y1="645.6" x2="1204.2" y2="661" stroke="#ff0000" stroke-width="3"/>
<line x1="1192.2" y1="645.6" x2="1216.2" y2="645.6" stroke="#ff0000" stroke-width="3"/>
<line x1="1192.2" y1="661" x2="1216.2" y2="661" stroke="#ff0000" stroke-width="3"/>
<line x1="1326.3" y1="893.4" x2="1326.3" y2="903" stroke="#000" stroke-width="3"/>
<line x1="1314.3" y1="893.4" x2="1338.3" y2="893.4" stroke="#000" stroke-width="3"/>
<line x1="1314.3" y1="903" x2="1338.3" y2="903" stroke="#000" stroke-width="3"/>
<circle cx="1309.7" cy="893.4" r="5.5" fill="#000"/>
<circle cx="1326.3" cy="897.9" r="5.5" fill="#000"/>
<circle cx="1342.4" cy="901.9" r="5.5" fill="#000"/>
<circle cx="1383.6" cy="895.4" r="5.5" fill="#000"/>
<circle cx="1400.2" cy="901.9" r="5.5" fill="#000"/>
<circle cx="1416.3" cy="911" r="5.5" fill="#000"/>
<line x1="1400.2" y1="893.9" x2="1400.2" y2="912" stroke="#ff0000" stroke-width="3"/>
<line x1="1388.2" y1="893.9" x2="1412.2" y2="893.9" stroke="#ff0000" stroke-width="3"/>
<line x1="1388.2" y1="912" x2="1412.2" y2="912" stroke="#ff0000" stroke-width="3"/>
<line x1="1522.3" y1="854.2" x2="1522.3" y2="861.7" stroke="#000" stroke-width="3"/>
<line x1="1510.3" y1="854.2" x2="1534.3" y2="854.2" stroke="#000" stroke-width="3"/>
<line x1="1510.3" y1="861.7" x2="1534.3" y2="861.7" stroke="#000" stroke-width="3"/>
<circle cx="1505.7" cy="854.2" r="5.5" fill="#000"/>
<circle cx="1522.3" cy="860.2" r="5.5" fill="#000"/>
<circle cx="1538.4" cy="860.2" r="5.5" fill="#000"/>
<circle cx="1579.1" cy="885.4" r="5.5" fill="#000"/>
<circle cx="1595.7" cy="886.9" r="5.5" fill="#000"/>
<circle cx="1612.3" cy="896.9" r="5.5" fill="#000"/>
<line x1="1595.7" y1="882.9" x2="1595.7" y2="900" stroke="#ff0000" stroke-width="3"/>
<line x1="1583.7" y1="882.9" x2="1607.7" y2="882.9" stroke="#ff0000" stroke-width="3"/>
<line x1="1583.7" y1="900" x2="1607.7" y2="900" stroke="#ff0000" stroke-width="3"/>
<line x1="1083.1" y1="592.25" x2="1083.1" y2="971.25" stroke="#000" stroke-width="3.3"/>
<line x1="1066" y1="969.6" x2="1647.5" y2="974" stroke="#000" stroke-width="3.3"/>
<line x1="1068.1" y1="969.6" x2="1083.1" y2="969.6" stroke="#000" stroke-width="3.3"/>
<text x="1062.5" y="979.9" font-size="28.7" text-anchor="end">0</text>
<line x1="1068.1" y1="875.67" x2="1083.1" y2="875.67" stroke="#000" stroke-width="3.3"/>
<text x="1062.5" y="885.97" font-size="28.7" text-anchor="end">20</text>
<line x1="1068.1" y1="781.75" x2="1083.1" y2="781.75" stroke="#000" stroke-width="3.3"/>
<text x="1062.5" y="792.05" font-size="28.7" text-anchor="end">40</text>
<line x1="1068.1" y1="687.83" x2="1083.1" y2="687.83" stroke="#000" stroke-width="3.3"/>
<text x="1062.5" y="698.12" font-size="28.7" text-anchor="end">60</text>
<line x1="1068.1" y1="593.9" x2="1083.1" y2="593.9" stroke="#000" stroke-width="3.3"/>
<text x="1062.5" y="604.2" font-size="28.7" text-anchor="end">80</text>
<line x1="1166.5" y1="970.36" x2="1166.5" y2="983.36" stroke="#000" stroke-width="3.3"/>
<text x="1166.5" y="1015" font-size="27.5" text-anchor="middle">G0/G1</text>
<line x1="1363" y1="971.85" x2="1363" y2="984.85" stroke="#000" stroke-width="3.3"/>
<text x="1363" y="1015" font-size="27.5" text-anchor="middle">S</text>
<line x1="1558.5" y1="973.33" x2="1558.5" y2="986.33" stroke="#000" stroke-width="3.3"/>
<text x="1558.5" y="1015" font-size="27.5" text-anchor="middle">G2/M</text>
<text x="1343.9" y="614.5" font-size="33.9" text-anchor="middle">22Rv1</text>
<text x="1010.7" y="758.5" font-size="35.3" text-anchor="middle" transform="rotate(-90 1010.7 758.5)">Cell cycle percentages(%)</text>
<text x="1119.8" y="614" font-size="25.7" textLength="103.5" lengthAdjust="spacingAndGlyphs"><tspan font-style="italic">P</tspan>=0.0055</text>
<line x1="1119.8" y1="624.5" x2="1211.7" y2="624.5" stroke="#000" stroke-width="3.3"/>
<rect x="196.2" y="1438.6" width="85.6" height="17.1" fill="#0000ff"/>
<rect x="324.5" y="1229.7" width="85.6" height="226" fill="#ff0000"/>
<circle cx="210.3" cy="1429" r="6.2" fill="#000"/>
<circle cx="238" cy="1442.6" r="6.2" fill="#000"/>
<circle cx="266.7" cy="1444.6" r="6.2" fill="#000"/>
<line x1="239" y1="1430" x2="239" y2="1447" stroke="#0000ff" stroke-width="2.5"/>
<line x1="217.5" y1="1430" x2="260.5" y2="1430" stroke="#0000ff" stroke-width="2.5"/>
<line x1="217.5" y1="1447" x2="260.5" y2="1447" stroke="#0000ff" stroke-width="2.5"/>
<circle cx="367.3" cy="1207.1" r="6.2" fill="#000"/>
<circle cx="358.7" cy="1232.3" r="6.2" fill="#000"/>
<circle cx="374.8" cy="1249.9" r="6.2" fill="#000"/>
<line x1="367.3" y1="1207.1" x2="367.3" y2="1249.9" stroke="#ff0000" stroke-width="2.5"/>
<line x1="345.8" y1="1207.1" x2="388.8" y2="1207.1" stroke="#ff0000" stroke-width="2.5"/>
<line x1="345.8" y1="1249.9" x2="388.8" y2="1249.9" stroke="#ff0000" stroke-width="2.5"/>
<line x1="153.5" y1="1142.55" x2="153.5" y2="1457.35" stroke="#000" stroke-width="3.3"/>
<line x1="138.4" y1="1455.7" x2="442.8" y2="1455.7" stroke="#000" stroke-width="3.3"/>
<line x1="138.5" y1="1455.7" x2="153.5" y2="1455.7" stroke="#000" stroke-width="3.3"/>
<text x="133.3" y="1465.9" font-size="28.5" text-anchor="end">0</text>
<line x1="138.5" y1="1377.83" x2="153.5" y2="1377.83" stroke="#000" stroke-width="3.3"/>
<text x="133.3" y="1388.03" font-size="28.5" text-anchor="end">5</text>
<line x1="138.5" y1="1299.95" x2="153.5" y2="1299.95" stroke="#000" stroke-width="3.3"/>
<text x="133.3" y="1310.15" font-size="28.5" text-anchor="end">10</text>
<line x1="138.5" y1="1222.08" x2="153.5" y2="1222.08" stroke="#000" stroke-width="3.3"/>
<text x="133.3" y="1232.28" font-size="28.5" text-anchor="end">15</text>
<line x1="138.5" y1="1144.2" x2="153.5" y2="1144.2" stroke="#000" stroke-width="3.3"/>
<text x="133.3" y="1154.4" font-size="28.5" text-anchor="end">20</text>
<line x1="239" y1="1455.7" x2="239" y2="1468.7" stroke="#000" stroke-width="3.3"/>
<text x="224.4" y="1495.4" font-size="28" text-anchor="middle">shNC</text>
<line x1="367.3" y1="1455.7" x2="367.3" y2="1468.7" stroke="#000" stroke-width="3.3"/>
<text x="356.5" y="1495.4" font-size="28" text-anchor="middle">shDYRK2</text>
<text x="273.2" y="1116.7" font-size="35.4" text-anchor="middle">DU145</text>
<text x="93.1" y="1298" font-size="35.3" text-anchor="middle" transform="rotate(-90 93.1 1298)">Apoptosis(%)</text>
<text x="245.5" y="1170.6" font-size="25.7" textLength="129.3" lengthAdjust="spacingAndGlyphs"><tspan font-style="italic">P</tspan>=9.99E-05</text>
<line x1="238" y1="1175.8" x2="367.3" y2="1175.8" stroke="#000" stroke-width="3.3"/>
<rect x="608.8" y="1396.3" width="85.5" height="59.4" fill="#0000ff"/>
<rect x="737.1" y="1233.8" width="85.5" height="221.9" fill="#ff0000"/>
<circle cx="651.6" cy="1383.7" r="6.2" fill="#000"/>
<circle cx="644" cy="1398.3" r="6.2" fill="#000"/>
<circle cx="659.1" cy="1408.9" r="6.2" fill="#000"/>
<line x1="651.6" y1="1383.7" x2="651.6" y2="1409" stroke="#0000ff" stroke-width="2.5"/>
<line x1="630.1" y1="1383.7" x2="673.1" y2="1383.7" stroke="#0000ff" stroke-width="2.5"/>
<line x1="630.1" y1="1409" x2="673.1" y2="1409" stroke="#0000ff" stroke-width="2.5"/>
<circle cx="779.9" cy="1220.2" r="6.2" fill="#000"/>
<circle cx="771.3" cy="1236.3" r="6.2" fill="#000"/>
<circle cx="787.4" cy="1244.8" r="6.2" fill="#000"/>
<line x1="779.9" y1="1220.2" x2="779.9" y2="1247" stroke="#ff0000" stroke-width="2.5"/>
<line x1="758.4" y1="1220.2" x2="801.4" y2="1220.2" stroke="#ff0000" stroke-width="2.5"/>
<line x1="758.4" y1="1247" x2="801.4" y2="1247" stroke="#ff0000" stroke-width="2.5"/>
<line x1="566" y1="1143.05" x2="566" y2="1457.35" stroke="#000" stroke-width="3.3"/>
<line x1="551" y1="1455.7" x2="855.3" y2="1455.7" stroke="#000" stroke-width="3.3"/>
<line x1="551" y1="1455.7" x2="566" y2="1455.7" stroke="#000" stroke-width="3.3"/>
<text x="547.9" y="1465.9" font-size="28.5" text-anchor="end">0</text>
<line x1="551" y1="1352.03" x2="566" y2="1352.03" stroke="#000" stroke-width="3.3"/>
<text x="547.9" y="1362.23" font-size="28.5" text-anchor="end">5</text>
<line x1="551" y1="1248.37" x2="566" y2="1248.37" stroke="#000" stroke-width="3.3"/>
<text x="547.9" y="1258.57" font-size="28.5" text-anchor="end">10</text>
<line x1="551" y1="1144.7" x2="566" y2="1144.7" stroke="#000" stroke-width="3.3"/>
<text x="547.9" y="1154.9" font-size="28.5" text-anchor="end">15</text>
<line x1="651.6" y1="1455.7" x2="651.6" y2="1468.7" stroke="#000" stroke-width="3.3"/>
<text x="637" y="1495.4" font-size="28" text-anchor="middle">shNC</text>
<line x1="779.9" y1="1455.7" x2="779.9" y2="1468.7" stroke="#000" stroke-width="3.3"/>
<text x="768.6" y="1495.4" font-size="28" text-anchor="middle">shDYRK2</text>
<text x="679.2" y="1116.7" font-size="33.5" text-anchor="middle">22Rv1</text>
<text x="505.7" y="1298" font-size="35.3" text-anchor="middle" transform="rotate(-90 505.7 1298)">Apoptosis(%)</text>
<text x="654.1" y="1170.6" font-size="25.7" textLength="117.2" lengthAdjust="spacingAndGlyphs"><tspan font-style="italic">P</tspan>=0.00012</text>
<line x1="645.5" y1="1175.8" x2="773.8" y2="1175.8" stroke="#000" stroke-width="3.3"/>
<line x1="151.7" y1="1549.65" x2="151.7" y2="1995.75" stroke="#000" stroke-width="3.3"/>
<line x1="135.8" y1="1994.1" x2="817.6" y2="1994.1" stroke="#000" stroke-width="3.3"/>
<line x1="138.1" y1="1994.1" x2="151.7" y2="1994.1" stroke="#000" stroke-width="3.3"/>
<text x="128.4" y="2004.3" font-size="28.4" text-anchor="end">0</text>
<line x1="138.1" y1="1846.5" x2="151.7" y2="1846.5" stroke="#000" stroke-width="3.3"/>
<text x="128.4" y="1856.7" font-size="28.4" text-anchor="end">1</text>
<line x1="138.1" y1="1698.9" x2="151.7" y2="1698.9" stroke="#000" stroke-width="3.3"/>
<text x="128.4" y="1709.1" font-size="28.4" text-anchor="end">2</text>
<line x1="138.1" y1="1551.3" x2="151.7" y2="1551.3" stroke="#000" stroke-width="3.3"/>
<text x="128.4" y="1561.5" font-size="28.4" text-anchor="end">3</text>
<line x1="165" y1="1994.1" x2="165" y2="2007.1" stroke="#000" stroke-width="3.3"/>
<text font-size="28.2" transform="translate(175.1 2017.8) rotate(-90) scale(1.07 1)" text-anchor="end">1</text>
<line x1="218.12" y1="1994.1" x2="218.12" y2="2007.1" stroke="#000" stroke-width="3.3"/>
<text font-size="28.2" transform="translate(228.22 2017.8) rotate(-90) scale(1.07 1)" text-anchor="end">5</text>
<line x1="271.25" y1="1994.1" x2="271.25" y2="2007.1" stroke="#000" stroke-width="3.3"/>
<text font-size="28.2" transform="translate(281.35 2017.8) rotate(-90) scale(1.07 1)" text-anchor="end">9</text>
<line x1="324.38" y1="1994.1" x2="324.38" y2="2007.1" stroke="#000" stroke-width="3.3"/>
<text font-size="28.2" transform="translate(334.48 2017.8) rotate(-90) scale(1.07 1)" text-anchor="end">13</text>
<line x1="377.5" y1="1994.1" x2="377.5" y2="2007.1" stroke="#000" stroke-width="3.3"/>
<text font-size="28.2" transform="translate(387.6 2017.8) rotate(-90) scale(1.07 1)" text-anchor="end">17</text>
<line x1="430.62" y1="1994.1" x2="430.62" y2="2007.1" stroke="#000" stroke-width="3.3"/>
<text font-size="28.2" transform="translate(440.73 2017.8) rotate(-90) scale(1.07 1)" text-anchor="end">21</text>
<line x1="483.75" y1="1994.1" x2="483.75" y2="2007.1" stroke="#000" stroke-width="3.3"/>
<text font-size="28.2" transform="translate(493.85 2017.8) rotate(-90) scale(1.07 1)" text-anchor="end">25</text>
<line x1="536.88" y1="1994.1" x2="536.88" y2="2007.1" stroke="#000" stroke-width="3.3"/>
<text font-size="28.2" transform="translate(546.98 2017.8) rotate(-90) scale(1.07 1)" text-anchor="end">29</text>
<line x1="590" y1="1994.1" x2="590" y2="2007.1" stroke="#000" stroke-width="3.3"/>
<text font-size="28.2" transform="translate(600.1 2017.8) rotate(-90) scale(1.07 1)" text-anchor="end">33</text>
<line x1="643.12" y1="1994.1" x2="643.12" y2="2007.1" stroke="#000" stroke-width="3.3"/>
<text font-size="28.2" transform="translate(653.23 2017.8) rotate(-90) scale(1.07 1)" text-anchor="end">37</text>
<line x1="696.25" y1="1994.1" x2="696.25" y2="2007.1" stroke="#000" stroke-width="3.3"/>
<text font-size="28.2" transform="translate(706.35 2017.8) rotate(-90) scale(1.07 1)" text-anchor="end">41</text>
<line x1="749.38" y1="1994.1" x2="749.38" y2="2007.1" stroke="#000" stroke-width="3.3"/>
<text font-size="28.2" transform="translate(759.48 2017.8) rotate(-90) scale(1.07 1)" text-anchor="end">45</text>
<line x1="802.5" y1="1994.1" x2="802.5" y2="2007.1" stroke="#000" stroke-width="3.3"/>
<text font-size="28.2" transform="translate(812.6 2017.8) rotate(-90) scale(1.07 1)" text-anchor="end">49</text>
<text font-size="33.4" transform="translate(474 2085.8) scale(1.08 1)" text-anchor="middle">Time (Days)</text>
<text font-size="34.8" transform="translate(96.4 1782) rotate(-90) scale(1.02 1)" text-anchor="middle">Tumor volume (cm³)</text>
<polyline fill="none" stroke="#ff0000" stroke-width="4" stroke-linejoin="round" points="165,1993.51 191.56,1992.99 218.12,1992.48 244.69,1991.96 271.25,1991.44 297.81,1990.93 324.38,1990.41 350.94,1989.89 377.5,1989.38 404.06,1988.86 430.62,1988.34 457.19,1987.83 483.75,1987.31 510.31,1986.79 536.88,1986.28 563.44,1985.76 590,1985.24 616.56,1984.73 643.12,1984.21 669.69,1982.29 696.25,1980.37 722.81,1979.37 749.38,1978.37 775.94,1977.36 802.5,1976.36"/>
<polygon points="165,1983.01 156,2000.01 174,2000.01" fill="#ff0000"/>
<polygon points="191.56,1982.49 182.56,1999.49 200.56,1999.49" fill="#ff0000"/>
<polygon points="218.12,1981.98 209.12,1998.98 227.12,1998.98" fill="#ff0000"/>
<polygon points="244.69,1981.46 235.69,1998.46 253.69,1998.46" fill="#ff0000"/>
<polygon points="271.25,1980.94 262.25,1997.94 280.25,1997.94" fill="#ff0000"/>
<polygon points="297.81,1980.43 288.81,1997.43 306.81,1997.43" fill="#ff0000"/>
<polygon points="324.38,1979.91 315.38,1996.91 333.38,1996.91" fill="#ff0000"/>
<polygon points="350.94,1979.39 341.94,1996.39 359.94,1996.39" fill="#ff0000"/>
<polygon points="377.5,1978.88 368.5,1995.88 386.5,1995.88" fill="#ff0000"/>
<polygon points="404.06,1978.36 395.06,1995.36 413.06,1995.36" fill="#ff0000"/>
<polygon points="430.62,1977.84 421.62,1994.84 439.62,1994.84" fill="#ff0000"/>
<polygon points="457.19,1977.33 448.19,1994.33 466.19,1994.33" fill="#ff0000"/>
<polygon points="483.75,1976.81 474.75,1993.81 492.75,1993.81" fill="#ff0000"/>
<polygon points="510.31,1976.29 501.31,1993.29 519.31,1993.29" fill="#ff0000"/>
<polygon points="536.88,1975.78 527.88,1992.78 545.88,1992.78" fill="#ff0000"/>
<polygon points="563.44,1975.26 554.44,1992.26 572.44,1992.26" fill="#ff0000"/>
<polygon points="590,1974.74 581,1991.74 599,1991.74" fill="#ff0000"/>
<polygon points="616.56,1974.23 607.56,1991.23 625.56,1991.23" fill="#ff0000"/>
<polygon points="643.12,1973.71 634.12,1990.71 652.12,1990.71" fill="#ff0000"/>
<polygon points="669.69,1971.79 660.69,1988.79 678.69,1988.79" fill="#ff0000"/>
<polygon points="696.25,1969.87 687.25,1986.87 705.25,1986.87" fill="#ff0000"/>
<polygon points="722.81,1968.87 713.81,1985.87 731.81,1985.87" fill="#ff0000"/>
<polygon points="749.38,1967.87 740.38,1984.87 758.38,1984.87" fill="#ff0000"/>
<polygon points="775.94,1966.86 766.94,1983.86 784.94,1983.86" fill="#ff0000"/>
<polygon points="802.5,1965.86 793.5,1982.86 811.5,1982.86" fill="#ff0000"/>
<line x1="457.19" y1="1728.9" x2="457.19" y2="1748.9" stroke="#0000ff" stroke-width="4"/>
<line x1="449.19" y1="1728.9" x2="465.19" y2="1728.9" stroke="#0000ff" stroke-width="4"/>
<line x1="449.19" y1="1748.9" x2="465.19" y2="1748.9" stroke="#0000ff" stroke-width="4"/>
<line x1="483.75" y1="1692.77" x2="483.75" y2="1714.77" stroke="#0000ff" stroke-width="4"/>
<line x1="475.75" y1="1692.77" x2="491.75" y2="1692.77" stroke="#0000ff" stroke-width="4"/>
<line x1="475.75" y1="1714.77" x2="491.75" y2="1714.77" stroke="#0000ff" stroke-width="4"/>
<line x1="510.31" y1="1652.95" x2="510.31" y2="1676.95" stroke="#0000ff" stroke-width="4"/>
<line x1="502.31" y1="1652.95" x2="518.31" y2="1652.95" stroke="#0000ff" stroke-width="4"/>
<line x1="502.31" y1="1676.95" x2="518.31" y2="1676.95" stroke="#0000ff" stroke-width="4"/>
<line x1="536.88" y1="1619.74" x2="536.88" y2="1643.74" stroke="#0000ff" stroke-width="4"/>
<line x1="528.88" y1="1619.74" x2="544.88" y2="1619.74" stroke="#0000ff" stroke-width="4"/>
<line x1="528.88" y1="1643.74" x2="544.88" y2="1643.74" stroke="#0000ff" stroke-width="4"/>
<polyline fill="none" stroke="#0000ff" stroke-width="4.2" stroke-linejoin="round" points="165,1990.56 191.56,1987.02 218.12,1983.03 244.69,1974.03 271.25,1959.41 297.81,1937.72 324.38,1911.59 350.94,1883.84 377.5,1848.71 404.06,1810.49 430.62,1771.67 457.19,1738.9 483.75,1703.77 510.31,1664.95 536.88,1631.74"/>
<circle cx="165" cy="1990.56" r="8.5" fill="#0000ff"/>
<circle cx="191.56" cy="1987.02" r="8.5" fill="#0000ff"/>
<circle cx="218.12" cy="1983.03" r="8.5" fill="#0000ff"/>
<circle cx="244.69" cy="1974.03" r="8.5" fill="#0000ff"/>
<circle cx="271.25" cy="1959.41" r="8.5" fill="#0000ff"/>
<circle cx="297.81" cy="1937.72" r="8.5" fill="#0000ff"/>
<circle cx="324.38" cy="1911.59" r="8.5" fill="#0000ff"/>
<circle cx="350.94" cy="1883.84" r="8.5" fill="#0000ff"/>
<circle cx="377.5" cy="1848.71" r="8.5" fill="#0000ff"/>
<circle cx="404.06" cy="1810.49" r="8.5" fill="#0000ff"/>
<circle cx="430.62" cy="1771.67" r="8.5" fill="#0000ff"/>
<circle cx="457.19" cy="1738.9" r="8.5" fill="#0000ff"/>
<circle cx="483.75" cy="1703.77" r="8.5" fill="#0000ff"/>
<circle cx="510.31" cy="1664.95" r="8.5" fill="#0000ff"/>
<circle cx="536.88" cy="1631.74" r="8.5" fill="#0000ff"/>
<line x1="611.3" y1="1574.5" x2="658.1" y2="1574.5" stroke="#0000ff" stroke-width="4.2"/>
<circle cx="635" cy="1574.5" r="8.5" fill="#0000ff"/>
<text x="674.2" y="1582" font-size="28">shNC</text>
<line x1="611.3" y1="1633.8" x2="658.1" y2="1633.8" stroke="#ff0000" stroke-width="4.2"/>
<polygon points="635,1623.3 626,1640.3 644,1640.3" fill="#ff0000"/>
<text x="674.2" y="1642.4" font-size="28">shDYRK2</text>
<text x="42.8" y="87.1" font-size="35.8">DU145</text>
<text x="170.6" y="108.2" font-size="27.85">shNC</text>
<text x="246.5" y="108.2" font-size="27.85">shDYRK2</text>
<text x="371" y="136.3" font-size="24.3">kDa</text>
<g clip-path="url(#c2)">
<rect x="165" y="127.8" width="192.9" height="53.8" fill="url(#g1)"/>
<g filter="url(#f3)">
<rect x="170" y="134" width="84" height="44" rx="22" fill="#000" opacity="0.46"/>
</g>
<g filter="url(#f4)">
<ellipse cx="213" cy="161" rx="36" ry="13" fill="#000" opacity="0.45"/>
</g>
<g filter="url(#f5)">
<ellipse cx="217" cy="166" rx="24" ry="6" fill="#000" opacity="0.6"/>
</g>
<g filter="url(#f6)">
<ellipse cx="219" cy="167" rx="10" ry="3" fill="#000" opacity="0.5"/>
</g>
<g filter="url(#f7)">
<ellipse cx="210" cy="184" rx="45" ry="8" fill="#000" opacity="0.3"/>
</g>
<g filter="url(#f8)">
<ellipse cx="318.5" cy="155" rx="36" ry="4" fill="#000" opacity="0.09" transform="rotate(3 318.5 155)"/>
</g>
</g>
<rect x="165" y="127.8" width="192.9" height="53.8" fill="none" stroke="#000" stroke-width="2"/>
<text x="155.5" y="164.8" font-size="24.9" text-anchor="end">DYRK2</text>
<text x="370.3" y="168.8" font-size="24.6">-66</text>
<g clip-path="url(#c9)">
<rect x="165" y="206.4" width="192.9" height="63.4" fill="#e9e9e9"/>
<g filter="url(#f10)">
<polygon points="190,231.3 207,227.4 247.8,228.2 248.4,240.8 242,244 225.4,239.8 200,233.8" fill="#000" opacity="0.97"/>
</g>
<g filter="url(#f11)">
<ellipse cx="190" cy="231.5" rx="12" ry="2.6" fill="#000" opacity="0.35"/>
</g>
<g filter="url(#f12)">
<ellipse cx="222" cy="236" rx="34" ry="12" fill="#000" opacity="0.28"/>
</g>
<g filter="url(#f13)">
<rect x="274.85" y="235.2" width="68.5" height="8.8" rx="4" fill="#000" opacity="0.97" transform="rotate(3.4 309.1 239.6)"/>
</g>
<g filter="url(#f14)">
<ellipse cx="309.1" cy="240" rx="40" ry="11" fill="#000" opacity="0.25" transform="rotate(3.4 309.1 240)"/>
</g>
</g>
<rect x="165" y="206.4" width="192.9" height="63.4" fill="none" stroke="#000" stroke-width="2"/>
<text x="159.5" y="245.3" font-size="24.9" text-anchor="end">VINCULIN</text>
<text x="369.3" y="248.3" font-size="24.6">-117</text>
<text x="43.6" y="310.5" font-size="34.3">22Rv1</text>
<text x="169" y="325.3" font-size="27.85">shNC</text>
<text x="248.6" y="325.3" font-size="27.85">shDYRK2</text>
<text x="372.8" y="346.2" font-size="24.3">kDa</text>
<g clip-path="url(#c16)">
<rect x="167" y="344.7" width="190.9" height="56.7" fill="url(#g15)"/>
<g filter="url(#f17)">
<rect x="167" y="373.4" width="80" height="10" rx="5" fill="#000" opacity="0.75"/>
<ellipse cx="183" cy="378.5" rx="13" ry="6.5" fill="#000" opacity="0.6"/>
<ellipse cx="204" cy="378.5" rx="7" ry="5" fill="#000" opacity="0.35"/>
</g>
<g filter="url(#f18)">
<rect x="160" y="367" width="92" height="30" rx="12" fill="#000" opacity="0.3"/>
</g>
<g filter="url(#f19)">
<ellipse cx="286" cy="372.7" rx="9" ry="6" fill="#000" opacity="0.16"/>
</g>
<g filter="url(#f20)">
<ellipse cx="315" cy="373" rx="36" ry="6" fill="#000" opacity="0.08"/>
</g>
</g>
<rect x="167" y="344.7" width="190.9" height="56.7" fill="none" stroke="#000" stroke-width="2"/>
<text x="155.5" y="387.4" font-size="24.9" text-anchor="end">DYRK2</text>
<text x="370.3" y="380.4" font-size="24.6">-66</text>
<g clip-path="url(#c21)">
<rect x="165" y="421.7" width="192.9" height="69" fill="#f7f7f7"/>
<g filter="url(#f22)">
<path d="M181 459.5 C 192 451.5, 214 451.5, 242 458.5" fill="none" stroke="#000" stroke-width="10" stroke-linecap="round" stroke-linejoin="round" opacity="0.97"/>
</g>
<g filter="url(#f23)">
<path d="M181 459.5 C 192 451.5, 214 451.5, 242 458.5" fill="none" stroke="#000" stroke-width="15" stroke-linecap="round" stroke-linejoin="round" opacity="0.22"/>
</g>
<g filter="url(#f24)">
<path d="M273.5 457.8 C 290 459, 315 459.5, 329 457.5" fill="none" stroke="#000" stroke-width="10.5" stroke-linecap="round" stroke-linejoin="round" opacity="0.97"/>
</g>
<g filter="url(#f25)">
<path d="M325 457.8 L 339 457.3" fill="none" stroke="#000" stroke-width="8.5" stroke-linecap="round" stroke-linejoin="round" opacity="0.8"/>
</g>
<g filter="url(#f26)">
<path d="M273.5 457.8 L 339 457.5" fill="none" stroke="#000" stroke-width="15" stroke-linecap="round" stroke-linejoin="round" opacity="0.22"/>
</g>
</g>
<rect x="165" y="421.7" width="192.9" height="69" fill="none" stroke="#000" stroke-width="2"/>
<text x="155.5" y="468.4" font-size="24.9" text-anchor="end">VINCULIN</text>
<text x="370.3" y="457.1" font-size="24.6">-117</text>
<text x="1030.6" y="1091.8" font-size="27.85">shNC</text>
<text x="1124.1" y="1091.8" font-size="27.85">shDYRK2</text>
<text x="1250" y="1115.4" font-size="24.3">kDa</text>
<g clip-path="url(#c28)">
<rect x="1018.2" y="1117.7" width="216.1" height="52.3" fill="url(#g27)"/>
<g filter="url(#f29)">
<rect x="1032" y="1142" width="84" height="36" rx="6" fill="#000" opacity="0.24"/>
<rect x="1032" y="1121" width="84" height="18" rx="6" fill="#000" opacity="0.08"/>
<rect x="1138" y="1142" width="72" height="36" rx="6" fill="#000" opacity="0.3"/>
<rect x="1138" y="1121" width="72" height="18" rx="6" fill="#000" opacity="0.12"/>
</g>
<g filter="url(#f30)">
<rect x="1036.2" y="1137.7" width="78" height="5" rx="2.5" fill="#000" opacity="0.62"/>
<rect x="1141" y="1138.2" width="68" height="5.6" rx="2.8" fill="#000" opacity="0.62"/>
<ellipse cx="1192" cy="1141.3" rx="17" ry="3.4" fill="#000" opacity="0.35"/>
</g>
</g>
<rect x="1018.2" y="1117.7" width="216.1" height="52.3" fill="none" stroke="#000" stroke-width="2"/>
<text x="1001.7" y="1150" font-size="24.3" text-anchor="end">RB</text>
<text x="1246" y="1150" font-size="24.6">-110</text>
<g clip-path="url(#c31)">
<rect x="1019.5" y="1189.3" width="212.1" height="56.7" fill="#dedede"/>
<g filter="url(#f32)">
<ellipse cx="1074" cy="1212.5" rx="36" ry="7.5" fill="#000" opacity="0.66"/>
</g>
<g filter="url(#f33)">
<ellipse cx="1094" cy="1214.5" rx="13" ry="6.5" fill="#000" opacity="0.75"/>
</g>
<g filter="url(#f34)">
<ellipse cx="1100" cy="1215" rx="6" ry="4" fill="#000" opacity="0.5"/>
</g>
<g filter="url(#f35)">
<ellipse cx="1078" cy="1205" rx="34" ry="10" fill="#000" opacity="0.15"/>
<ellipse cx="1180" cy="1216.5" rx="37" ry="7.5" fill="#000" opacity="0.42"/>
</g>
<g filter="url(#f36)">
<ellipse cx="1198" cy="1217.2" rx="15" ry="6" fill="#000" opacity="0.28"/>
</g>
</g>
<rect x="1019.5" y="1189.3" width="212.1" height="56.7" fill="none" stroke="#000" stroke-width="3.4"/>
<text x="1001.7" y="1226.6" font-size="24.3" text-anchor="end">p-RB</text>
<text x="1246" y="1226.6" font-size="24.6">-110</text>
<g clip-path="url(#c38)">
<rect x="1018.2" y="1261.9" width="216.1" height="50.2" fill="url(#g37)"/>
<g filter="url(#f39)">
<rect x="1016" y="1253" width="100" height="70" rx="20" fill="#000" opacity="0.36"/>
</g>
<g filter="url(#f40)">
<ellipse cx="1070" cy="1302" rx="36" ry="9" fill="#000" opacity="0.3"/>
</g>
<g filter="url(#f41)">
<ellipse cx="1073.8" cy="1287.9" rx="39.5" ry="10.6" fill="#000" opacity="0.93"/>
</g>
<g filter="url(#f42)">
<rect x="1144" y="1279.75" width="80" height="5.5" rx="2.75" fill="#000" opacity="0.24"/>
<rect x="1149" y="1299.5" width="66" height="5" rx="2.5" fill="#000" opacity="0.08"/>
</g>
</g>
<rect x="1018.2" y="1261.9" width="216.1" height="50.2" fill="none" stroke="#000" stroke-width="2"/>
<text x="1004.8" y="1295.9" font-size="24.3" text-anchor="end">CDK6</text>
<text x="1246.8" y="1288.3" font-size="24.6">-36</text>
<g clip-path="url(#c43)">
<rect x="1018.2" y="1332.9" width="216.1" height="57.9" fill="#dfdfdf"/>
<g filter="url(#f44)">
<polygon points="1035,1358.6 1060,1357.8 1100,1358.4 1128,1362.3 1112,1367.2 1086,1369.2 1062,1367.6 1044,1363" fill="#000" opacity="0.97"/>
</g>
<g filter="url(#f45)">
<ellipse cx="1080" cy="1363" rx="52" ry="11" fill="#000" opacity="0.22"/>
</g>
<g filter="url(#f46)">
<rect x="1146" y="1359.2" width="52" height="4.4" rx="2.2" fill="#000" opacity="0.38"/>
</g>
<g filter="url(#f47)">
<ellipse cx="1160" cy="1361.4" rx="12" ry="2.4" fill="#000" opacity="0.2"/>
</g>
</g>
<rect x="1018.2" y="1332.9" width="216.1" height="57.9" fill="none" stroke="#000" stroke-width="2"/>
<text x="1004.8" y="1371.8" font-size="24.3" text-anchor="end">CDK4</text>
<text x="1246.8" y="1371.8" font-size="24.6">-30</text>
<g clip-path="url(#c49)">
<rect x="1018.2" y="1411.2" width="216.1" height="75.7" fill="url(#g48)"/>
<g filter="url(#f50)">
<ellipse cx="1078.5" cy="1451.7" rx="33" ry="6" fill="#000" opacity="0.3"/>
</g>
<g filter="url(#f51)">
<path d="M1144 1449.5 C 1165 1447.5, 1195 1448.5, 1210 1452.5" fill="none" stroke="#000" stroke-width="14.5" stroke-linecap="round" stroke-linejoin="round" opacity="0.97"/>
</g>
<g filter="url(#f52)">
<path d="M1144 1449.5 C 1165 1447.5, 1195 1448.5, 1210 1452.5" fill="none" stroke="#000" stroke-width="22" stroke-linecap="round" stroke-linejoin="round" opacity="0.28"/>
</g>
</g>
<rect x="1018.2" y="1411.2" width="216.1" height="75.7" fill="none" stroke="#000" stroke-width="2.3"/>
<text x="1003" y="1454.7" font-size="24.3" text-anchor="end">P27</text>
<text x="1250.6" y="1458.5" font-size="24.6">-27</text>
<g clip-path="url(#c53)">
<rect x="1018.2" y="1499.2" width="216.1" height="60.3" fill="#ececec"/>
<g filter="url(#f54)">
<rect x="1039.7" y="1515.4" width="75" height="15" rx="7.5" fill="#000" opacity="0.97"/>
</g>
<g filter="url(#f55)">
<rect x="1036.2" y="1512" width="82" height="22" rx="11" fill="#000" opacity="0.25"/>
</g>
<g filter="url(#f56)">
<rect x="1136.35" y="1520.2" width="74.5" height="17" rx="8.5" fill="#000" opacity="0.97" transform="rotate(3.2 1173.6 1528.7)"/>
</g>
<g filter="url(#f57)">
<rect x="1132.6" y="1516.7" width="82" height="24" rx="12" fill="#000" opacity="0.25" transform="rotate(3.2 1173.6 1528.7)"/>
</g>
</g>
<rect x="1018.2" y="1499.2" width="216.1" height="60.3" fill="none" stroke="#000" stroke-width="2"/>
<text x="1004.3" y="1531.8" font-size="24.3" text-anchor="end">VINCULIN</text>
<text x="1246" y="1536.1" font-size="24.6">-117</text>
<text x="1484.2" y="1091.2" font-size="27.85">shNC</text>
<text x="1574.2" y="1091.2" font-size="27.85">shDYRK2</text>
<text x="1704.6" y="1115.3" font-size="24.3">kDa</text>
<g clip-path="url(#c59)">
<rect x="1473.3" y="1120.6" width="218.5" height="70.4" fill="url(#g58)"/>
<g filter="url(#f60)">
<ellipse cx="1532" cy="1157" rx="41" ry="8.5" fill="#000" opacity="0.72"/>
</g>
<g filter="url(#f61)">
<ellipse cx="1532" cy="1156" rx="50" ry="15" fill="#000" opacity="0.2"/>
</g>
<g filter="url(#f62)">
<ellipse cx="1640" cy="1158" rx="41" ry="12" fill="#000" opacity="0.97"/>
<ellipse cx="1655" cy="1158.5" rx="24" ry="12.5" fill="#000" opacity="0.8"/>
<ellipse cx="1612" cy="1158" rx="20" ry="8.5" fill="#000" opacity="0.75"/>
</g>
<g filter="url(#f63)">
<ellipse cx="1640" cy="1154" rx="52" ry="20" fill="#000" opacity="0.28"/>
</g>
</g>
<rect x="1473.3" y="1120.6" width="218.5" height="70.4" fill="none" stroke="#000" stroke-width="2.5"/>
<text x="1460.6" y="1155.5" font-size="24.5" text-anchor="end">P21</text>
<text x="1708" y="1155.5" font-size="24.6">-21</text>
<g clip-path="url(#c64)">
<rect x="1473.3" y="1201" width="218.5" height="59.6" fill="#ececec"/>
<g filter="url(#f65)">
<rect x="1492.5" y="1223.55" width="82" height="13.5" rx="6.75" fill="#000" opacity="0.5"/>
</g>
<g filter="url(#f66)">
<ellipse cx="1502" cy="1230" rx="11" ry="7" fill="#000" opacity="0.4"/>
<ellipse cx="1528" cy="1230" rx="10" ry="6" fill="#000" opacity="0.2"/>
<ellipse cx="1565" cy="1230.5" rx="10" ry="6.5" fill="#000" opacity="0.32"/>
</g>
<g filter="url(#f67)">
<rect x="1603" y="1219.5" width="76" height="25" rx="12.5" fill="#000" opacity="0.97" transform="rotate(2 1641 1232)"/>
</g>
<g filter="url(#f68)">
<rect x="1599" y="1216" width="84" height="32" rx="16" fill="#000" opacity="0.25" transform="rotate(2 1641 1232)"/>
</g>
</g>
<rect x="1473.3" y="1201" width="218.5" height="59.6" fill="none" stroke="#000" stroke-width="2.5"/>
<text x="1461.9" y="1235.5" font-size="24.5" text-anchor="end">P53</text>
<text x="1708" y="1238.7" font-size="24.6">-53</text>
<g clip-path="url(#c70)">
<rect x="1473.3" y="1271.5" width="218.5" height="59.8" fill="url(#g69)"/>
<g filter="url(#f71)">
<ellipse cx="1532" cy="1312" rx="34" ry="11" fill="#000" opacity="0.5"/>
</g>
<g filter="url(#f72)">
<rect x="1493" y="1295.1" width="77" height="13" rx="6.5" fill="#000" opacity="0.97"/>
</g>
<g filter="url(#f73)">
<ellipse cx="1485.8" cy="1289.5" rx="6.5" ry="5" fill="#000" opacity="0.95"/>
</g>
<g filter="url(#f74)">
<ellipse cx="1635" cy="1301.6" rx="35.5" ry="4.6" fill="#000" opacity="0.88"/>
</g>
<g filter="url(#f75)">
<ellipse cx="1635" cy="1302" rx="40" ry="8" fill="#000" opacity="0.2"/>
</g>
</g>
<rect x="1473.3" y="1271.5" width="218.5" height="59.8" fill="none" stroke="#000" stroke-width="2.5"/>
<text x="1461.9" y="1311.6" font-size="24.5" text-anchor="end">XIAP</text>
<text x="1708" y="1311.6" font-size="24.6">-60</text>
<g clip-path="url(#c77)">
<rect x="1473.3" y="1349.2" width="218.5" height="46.2" fill="url(#g76)"/>
<g filter="url(#f78)">
<ellipse cx="1532" cy="1369" rx="34" ry="6" fill="#000" opacity="0.07"/>
</g>
<g filter="url(#f79)">
<rect x="1592" y="1339" width="96" height="50" rx="14" fill="#000" opacity="0.5"/>
</g>
<g filter="url(#f80)">
<rect x="1595" y="1385" width="90" height="14" rx="7" fill="#000" opacity="0.2"/>
</g>
<g filter="url(#f81)">
<rect x="1594" y="1366" width="84" height="15" rx="7.5" fill="#000" opacity="0.68"/>
</g>
<g filter="url(#f82)">
<rect x="1653.5" y="1348" width="7" height="36" rx="18" fill="#000" opacity="0.45"/>
</g>
<g filter="url(#f83)">
<ellipse cx="1660" cy="1377" rx="12" ry="8" fill="#000" opacity="0.4"/>
</g>
</g>
<rect x="1473.3" y="1349.2" width="218.5" height="46.2" fill="none" stroke="#000" stroke-width="2.5"/>
<text x="1461.9" y="1379.3" font-size="24.5" text-anchor="end">Cleaved PARP</text>
<text x="1708" y="1383" font-size="24.6">-89</text>
<g clip-path="url(#c84)">
<rect x="1472.3" y="1410.7" width="219.7" height="61.9" fill="#e3e3e3"/>
<g filter="url(#f85)">
<path d="M1494 1436.2 L 1545 1438.2 L 1566 1442.5" fill="none" stroke="#000" stroke-width="5.6" stroke-linecap="round" stroke-linejoin="round" opacity="0.45"/>
</g>
<g filter="url(#f86)">
<ellipse cx="1566" cy="1442.6" rx="7.5" ry="3.8" fill="#000" opacity="0.7"/>
</g>
<g filter="url(#f87)">
<polygon points="1598,1438.2 1640,1438.8 1672,1438.4 1674.5,1447 1668,1450.3 1640,1447 1599,1443.2" fill="#000" opacity="0.93"/>
</g>
<g filter="url(#f88)">
<ellipse cx="1640" cy="1443" rx="40" ry="7" fill="#000" opacity="0.18"/>
</g>
</g>
<rect x="1472.3" y="1410.7" width="219.7" height="61.9" fill="none" stroke="#000" stroke-width="2"/>
<text x="1461.9" y="1454.6" font-size="24.5" text-anchor="end">E-cadherin</text>
<text x="1701.2" y="1457.3" font-size="24.6">-125</text>
<g clip-path="url(#c89)">
<rect x="1472" y="1493.4" width="219.1" height="66.2" fill="#e2e2e2"/>
<g filter="url(#f90)">
<rect x="1493" y="1480" width="82" height="60" rx="8" fill="#000" opacity="0.29"/>
<rect x="1598" y="1480" width="80" height="60" rx="8" fill="#000" opacity="0.29"/>
<rect x="1494" y="1531" width="80" height="30" rx="15" fill="#000" opacity="0.12"/>
<rect x="1598" y="1531" width="80" height="30" rx="15" fill="#000" opacity="0.12"/>
</g>
<g filter="url(#f91)">
<path d="M1499 1528.4 C 1520 1530.8, 1550 1530.8, 1570 1529.2" fill="none" stroke="#000" stroke-width="12" stroke-linecap="round" stroke-linejoin="round" opacity="0.9"/>
<path d="M1601.5 1526.6 C 1615 1530.2, 1660 1530.2, 1674 1526.6" fill="none" stroke="#000" stroke-width="12" stroke-linecap="round" stroke-linejoin="round" opacity="0.9"/>
</g>
</g>
<rect x="1472" y="1493.4" width="219.1" height="66.2" fill="none" stroke="#000" stroke-width="2"/>
<text x="1461.9" y="1542.6" font-size="24.5" text-anchor="end">VINCULIN</text>
<text x="1701.2" y="1533.8" font-size="24.6">-117</text>
<text x="1030.3" y="1694.5" font-size="27.85">shNC</text>
<text x="1121.6" y="1694.5" font-size="27.85">shDYRK2</text>
<text x="1250.4" y="1723.4" font-size="24.3">kDa</text>
<g clip-path="url(#c92)">
<rect x="1018.4" y="1730.1" width="216.3" height="63.2" fill="#e6e6e6"/>
<g filter="url(#f93)">
<rect x="1038" y="1766" width="76" height="24" rx="12" fill="#000" opacity="0.65"/>
<rect x="1149" y="1768" width="74" height="20" rx="10" fill="#000" opacity="0.36"/>
</g>
<g filter="url(#f94)">
<rect x="1036.2" y="1757.75" width="78" height="14.5" rx="7.25" fill="#000" opacity="0.93"/>
</g>
<g filter="url(#f95)">
<ellipse cx="1098" cy="1767" rx="16" ry="9" fill="#000" opacity="0.6"/>
</g>
<g filter="url(#f96)">
<rect x="1147.5" y="1761.7" width="77" height="9.4" rx="4.7" fill="#000" opacity="0.9"/>
</g>
</g>
<rect x="1018.4" y="1730.1" width="216.3" height="63.2" fill="none" stroke="#000" stroke-width="2"/>
<text x="1003.6" y="1770.4" font-size="24.9" text-anchor="end">RB</text>
<text x="1246.6" y="1775" font-size="24.6">-110</text>
<g clip-path="url(#c97)">
<rect x="1019.1" y="1807.7" width="216.3" height="55.4" fill="#eeeeee"/>
<g filter="url(#f98)">
<polygon points="1047.5,1830.6 1085,1833.2 1122.5,1834 1122,1840 1113,1843 1085,1840.6 1049,1835.4" fill="#000" opacity="0.97"/>
</g>
<g filter="url(#f99)">
<ellipse cx="1085" cy="1831" rx="40" ry="10" fill="#000" opacity="0.17"/>
</g>
<g filter="url(#f100)">
<ellipse cx="1175" cy="1834.2" rx="33" ry="3.4" fill="#000" opacity="0.1"/>
</g>
</g>
<rect x="1019.1" y="1807.7" width="216.3" height="55.4" fill="none" stroke="#000" stroke-width="3.4"/>
<text x="1003.6" y="1846.2" font-size="24.9" text-anchor="end">p-RB</text>
<text x="1246.6" y="1841.6" font-size="24.6">-110</text>
<g clip-path="url(#c101)">
<rect x="1019.6" y="1877.4" width="215.5" height="53.5" fill="#f1f1f1"/>
<g filter="url(#f102)">
<polygon points="1036.5,1898.5 1050,1897 1075,1899.5 1100,1904.8 1115,1909.5 1098,1912.3 1068,1912.8 1047,1908.5" fill="#000" opacity="0.97"/>
</g>
<g filter="url(#f103)">
<ellipse cx="1074.5" cy="1906" rx="46" ry="11" fill="#000" opacity="0.22" transform="rotate(5.7 1074.5 1906)"/>
</g>
<g filter="url(#f104)">
<rect x="1136" y="1907.5" width="78" height="5.6" rx="2.8" fill="#000" opacity="0.36" transform="rotate(2.9 1175 1910.3)"/>
</g>
</g>
<rect x="1019.6" y="1877.4" width="215.5" height="53.5" fill="none" stroke="#000" stroke-width="2.7"/>
<text x="1006.2" y="1909.6" font-size="24.9" text-anchor="end">CDK4</text>
<text x="1246.6" y="1909.6" font-size="24.6">-30</text>
<g clip-path="url(#c105)">
<rect x="1018.6" y="1944.2" width="215.5" height="66.1" fill="#efefef"/>
<g filter="url(#f106)">
<polygon points="1035.5,1971.5 1060,1970.8 1100,1972.8 1118,1977 1105,1982 1075,1983.3 1052,1981 1040,1976" fill="#000" opacity="0.97"/>
</g>
<g filter="url(#f107)">
<ellipse cx="1076" cy="1977" rx="48" ry="11" fill="#000" opacity="0.2" transform="rotate(2.9 1076 1977)"/>
</g>
<g filter="url(#f108)">
<rect x="1135.6" y="1975.2" width="82" height="4.6" rx="2.3" fill="#000" opacity="0.17"/>
</g>
</g>
<rect x="1018.6" y="1944.2" width="215.5" height="66.1" fill="none" stroke="#000" stroke-width="2.4"/>
<text x="1006.2" y="1985.8" font-size="24.9" text-anchor="end">CDK6</text>
<text x="1249" y="1988" font-size="24.6">-36</text>
<g clip-path="url(#c109)">
<rect x="1018.8" y="2021.6" width="215.9" height="64.2" fill="#e5e5e5"/>
<g filter="url(#f110)">
<polygon points="1037,2043.5 1044,2041.8 1100,2041.5 1110,2043.5 1111.5,2052 1106,2058 1092,2060 1060,2056 1040,2054 1035.5,2049" fill="#000" opacity="0.95"/>
</g>
<g filter="url(#f111)">
<rect x="1032" y="2038" width="84" height="24" rx="12" fill="#000" opacity="0.25"/>
</g>
<g filter="url(#f112)">
<rect x="1137.1" y="2046.95" width="77" height="18.5" rx="9" fill="#000" opacity="0.95" transform="rotate(3.4 1175.6 2056.2)"/>
</g>
<g filter="url(#f113)">
<rect x="1132.6" y="2042.7" width="86" height="27" rx="13" fill="#000" opacity="0.25" transform="rotate(3.4 1175.6 2056.2)"/>
</g>
</g>
<rect x="1018.8" y="2021.6" width="215.9" height="64.2" fill="none" stroke="#000" stroke-width="2"/>
<text x="1006.2" y="2063" font-size="24.9" text-anchor="end">VINCULIN</text>
<text x="1246.6" y="2059.2" font-size="24.6">-117</text>
<text x="1485.5" y="1694.7" font-size="27.85">shNC</text>
<text x="1573.4" y="1694.7" font-size="27.85">shDYRK2</text>
<text x="1704.6" y="1719.6" font-size="24.3">kDa</text>
<g clip-path="url(#c114)">
<rect x="1468.1" y="1732.2" width="223.9" height="59.7" fill="#eaeaea"/>
<g filter="url(#f115)">
<ellipse cx="1517.8" cy="1761.5" rx="7.5" ry="4.2" fill="#000" opacity="0.85"/>
</g>
<g filter="url(#f116)">
<ellipse cx="1503" cy="1760.8" rx="9" ry="3.2" fill="#000" opacity="0.5"/>
<ellipse cx="1551.8" cy="1760.1" rx="12" ry="4.6" fill="#000" opacity="0.8"/>
</g>
<g filter="url(#f117)">
<ellipse cx="1535" cy="1761" rx="30" ry="3" fill="#000" opacity="0.3"/>
</g>
<g filter="url(#f118)">
<ellipse cx="1626" cy="1762.1" rx="38" ry="8.6" fill="#000" opacity="0.96"/>
</g>
<g filter="url(#f119)">
<ellipse cx="1626" cy="1763" rx="46" ry="14" fill="#000" opacity="0.3"/>
</g>
</g>
<rect x="1468.1" y="1732.2" width="223.9" height="59.7" fill="none" stroke="#000" stroke-width="1.8"/>
<text x="1460.6" y="1769.1" font-size="24.5" text-anchor="end">P27</text>
<text x="1712.5" y="1770.3" font-size="24.6">-27</text>
<g clip-path="url(#c121)">
<rect x="1469.4" y="1810" width="222.6" height="42.8" fill="url(#g120)"/>
<g filter="url(#f122)">
<ellipse cx="1524.6" cy="1825.4" rx="36" ry="4.5" fill="#000" opacity="0.13"/>
</g>
<g filter="url(#f123)">
<rect x="1589" y="1801" width="104" height="60" rx="8" fill="#000" opacity="0.42"/>
</g>
<g filter="url(#f124)">
<rect x="1685" y="1806" width="10" height="50" rx="25" fill="#fff" opacity="0.25"/>
</g>
<g filter="url(#f125)">
<rect x="1589" y="1829.1" width="86" height="9" rx="4.5" fill="#000" opacity="0.4"/>
</g>
<g filter="url(#f126)">
<ellipse cx="1657.3" cy="1833.6" rx="21.5" ry="5.6" fill="#000" opacity="0.97"/>
</g>
<g filter="url(#f127)">
<ellipse cx="1670" cy="1811" rx="22" ry="5" fill="#000" opacity="0.55"/>
</g>
</g>
<rect x="1469.4" y="1810" width="222.6" height="42.8" fill="none" stroke="#000" stroke-width="1.9"/>
<text x="1460.6" y="1842" font-size="24.5" text-anchor="end">P53</text>
<text x="1712.5" y="1835.1" font-size="24.6">-53</text>
<g clip-path="url(#c129)">
<rect x="1469" y="1872.7" width="223" height="57.1" fill="url(#g128)"/>
<g filter="url(#f130)">
<path d="M1484 1898.5 C 1500 1906, 1540 1910, 1571 1901" fill="none" stroke="#000" stroke-width="9" stroke-linecap="round" stroke-linejoin="round" opacity="0.37"/>
</g>
<g filter="url(#f131)">
<rect x="1470" y="1872" width="100" height="12" rx="6" fill="#000" opacity="0.12"/>
</g>
<g filter="url(#f132)">
<rect x="1480" y="1886.5" width="90" height="7" rx="3.5" fill="#fff" opacity="0.16"/>
<ellipse cx="1598" cy="1900" rx="9" ry="4" fill="#000" opacity="0.1"/>
</g>
<g filter="url(#f133)">
<ellipse cx="1490" cy="1925" rx="30" ry="10" fill="#000" opacity="0.15"/>
</g>
</g>
<rect x="1469" y="1872.7" width="223" height="57.1" fill="none" stroke="#000" stroke-width="1.9"/>
<text x="1461" y="1913.8" font-size="24.5" text-anchor="end">XIAP</text>
<text x="1711.5" y="1909.4" font-size="24.6">-60</text>
<g clip-path="url(#c135)">
<rect x="1469.1" y="1948.5" width="223.2" height="59.5" fill="url(#g134)"/>
<g filter="url(#f136)">
<rect x="1578" y="1967" width="96" height="50" rx="10" fill="#000" opacity="0.3"/>
</g>
<g filter="url(#f137)">
<ellipse cx="1522" cy="1982" rx="44" ry="12" fill="#000" opacity="0.17"/>
</g>
<g filter="url(#f138)">
<path d="M1487 1978 C 1505 1984, 1540 1984, 1558 1978" fill="none" stroke="#000" stroke-width="5.6" stroke-linecap="round" stroke-linejoin="round" opacity="0.64"/>
</g>
<g filter="url(#f139)">
<polygon points="1581,1977.5 1600,1980 1626,1980.4 1652,1980 1671,1977.5 1656,1987.5 1626,1991 1599,1989" fill="#000" opacity="0.92"/>
</g>
<g filter="url(#f140)">
<ellipse cx="1626" cy="1982" rx="50" ry="9" fill="#000" opacity="0.2"/>
</g>
</g>
<rect x="1469.1" y="1948.5" width="223.2" height="59.5" fill="none" stroke="#000" stroke-width="2"/>
<text x="1460.3" y="1988.9" font-size="24.5" text-anchor="end">Cleaved PARP</text>
<text x="1709" y="1988.9" font-size="24.6">-89</text>
<g clip-path="url(#c141)">
<rect x="1468.4" y="2025.2" width="225.3" height="62.3" fill="#eeeeee"/>
<g filter="url(#f142)">
<polygon points="1486.5,2043.5 1496,2041.5 1540,2046 1573,2047.2 1580,2052 1578,2059 1567,2062 1535,2061.3 1503,2054.5 1487.5,2049" fill="#000" opacity="0.97"/>
</g>
<g filter="url(#f143)">
<ellipse cx="1533" cy="2052" rx="54" ry="13" fill="#000" opacity="0.22" transform="rotate(5.7 1533 2052)"/>
</g>
<g filter="url(#f144)">
<rect x="1596.2" y="2048.2" width="82" height="18" rx="9" fill="#000" opacity="0.97"/>
</g>
<g filter="url(#f145)">
<rect x="1591.2" y="2043.7" width="92" height="27" rx="13" fill="#000" opacity="0.22"/>
</g>
</g>
<rect x="1468.4" y="2025.2" width="225.3" height="62.3" fill="none" stroke="#000" stroke-width="1.9"/>
<text x="1460.3" y="2063.4" font-size="24.5" text-anchor="end">TUBULIN</text>
<text x="1709" y="2067.6" font-size="24.6">-52</text>
</svg>
</body></html>
